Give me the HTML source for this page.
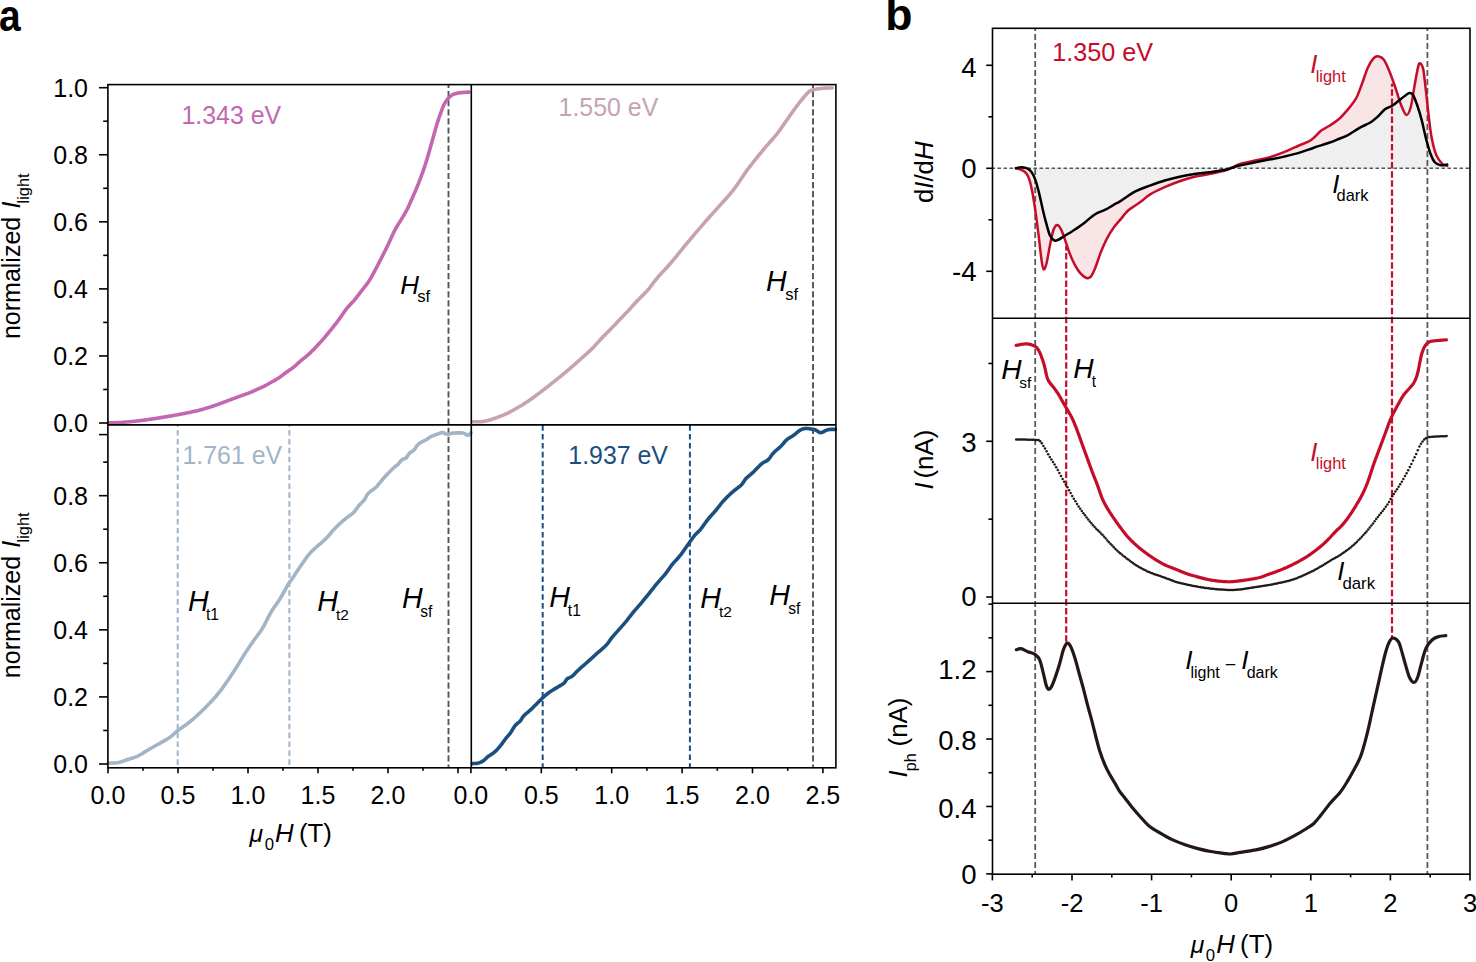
<!DOCTYPE html>
<html><head><meta charset="utf-8"><style>
html,body{margin:0;padding:0;background:#fff;width:1476px;height:962px;overflow:hidden}
svg{display:block;font-family:"Liberation Sans", sans-serif}
</style></head><body>
<svg width="1476" height="962" viewBox="0 0 1476 962">
<text transform="translate(-1.0 30.6) scale(0.875 1)" font-size="44.5" font-weight="bold" fill="#000">a</text>
<line x1="448.50" y1="84.60" x2="448.50" y2="767.80" stroke="#555" stroke-width="1.90" stroke-dasharray="6.20 2.90" stroke-dashoffset="2.70"/>
<line x1="813.00" y1="84.60" x2="813.00" y2="767.80" stroke="#555" stroke-width="1.90" stroke-dasharray="6.20 2.90" stroke-dashoffset="2.70"/>
<line x1="177.70" y1="424.90" x2="177.70" y2="767.80" stroke="#a2b4c6" stroke-width="2.00" stroke-dasharray="5.60 3.30" stroke-dashoffset="3.80"/>
<line x1="289.40" y1="424.90" x2="289.40" y2="767.80" stroke="#a2b4c6" stroke-width="2.00" stroke-dasharray="5.60 3.30" stroke-dashoffset="3.80"/>
<line x1="542.70" y1="424.90" x2="542.70" y2="767.80" stroke="#1b4f80" stroke-width="2.00" stroke-dasharray="5.60 3.30" stroke-dashoffset="8.70"/>
<line x1="689.90" y1="424.90" x2="689.90" y2="767.80" stroke="#1b4f80" stroke-width="2.00" stroke-dasharray="5.60 3.30" stroke-dashoffset="8.70"/>
<path d="M108.20 422.80 L109.45 422.79 L110.27 422.78 L111.21 422.78 L112.20 422.77 L113.20 422.76 L114.20 422.74 L115.20 422.72 L116.20 422.69 L117.20 422.65 L118.20 422.61 L119.20 422.56 L120.19 422.50 L121.19 422.43 L122.19 422.36 L123.19 422.29 L124.18 422.21 L125.18 422.13 L126.18 422.05 L127.17 421.96 L128.17 421.87 L129.16 421.78 L130.16 421.69 L131.16 421.59 L132.15 421.49 L133.15 421.39 L134.14 421.29 L135.13 421.18 L136.13 421.07 L137.12 420.96 L138.12 420.85 L139.11 420.73 L140.10 420.61 L141.09 420.49 L142.09 420.36 L143.08 420.24 L144.07 420.11 L145.06 419.98 L146.05 419.85 L147.04 419.72 L148.03 419.58 L149.03 419.44 L150.02 419.30 L151.00 419.15 L151.99 419.01 L152.98 418.86 L153.97 418.71 L154.96 418.56 L155.95 418.41 L156.94 418.26 L157.92 418.10 L158.91 417.94 L159.90 417.79 L160.89 417.63 L161.87 417.47 L162.86 417.30 L163.85 417.14 L164.83 416.98 L165.82 416.81 L166.81 416.64 L167.79 416.47 L168.78 416.30 L169.76 416.13 L170.75 415.96 L171.73 415.79 L172.72 415.61 L173.70 415.44 L174.69 415.27 L175.67 415.09 L176.66 414.92 L177.64 414.74 L178.62 414.57 L179.61 414.39 L180.59 414.21 L181.58 414.02 L182.56 413.84 L183.54 413.65 L184.52 413.45 L185.50 413.26 L186.48 413.06 L187.46 412.86 L188.44 412.65 L189.42 412.44 L190.40 412.23 L191.37 412.02 L192.35 411.81 L193.32 411.59 L194.30 411.37 L195.27 411.14 L196.25 410.91 L197.22 410.67 L198.19 410.43 L199.16 410.19 L200.13 409.93 L201.09 409.68 L202.06 409.42 L203.02 409.15 L203.99 408.88 L204.95 408.61 L205.91 408.33 L206.87 408.05 L207.82 407.76 L208.78 407.47 L209.74 407.17 L210.69 406.87 L211.64 406.57 L212.59 406.26 L213.54 405.94 L214.49 405.62 L215.43 405.30 L216.38 404.96 L217.32 404.62 L218.26 404.28 L219.20 403.93 L220.13 403.58 L221.07 403.23 L222.00 402.88 L222.94 402.53 L223.87 402.17 L224.81 401.82 L225.75 401.47 L226.68 401.12 L227.62 400.77 L228.56 400.42 L229.50 400.08 L230.43 399.73 L231.37 399.38 L232.31 399.03 L233.25 398.68 L234.18 398.33 L235.12 397.99 L236.06 397.64 L237.00 397.29 L237.93 396.94 L238.87 396.60 L239.81 396.26 L240.75 395.91 L241.69 395.58 L242.63 395.24 L243.58 394.91 L244.52 394.58 L245.47 394.25 L246.41 393.92 L247.35 393.58 L248.29 393.24 L249.22 392.88 L250.15 392.52 L251.08 392.14 L252.00 391.74 L252.91 391.33 L253.82 390.92 L254.73 390.50 L255.63 390.08 L256.54 389.66 L257.45 389.24 L258.36 388.83 L259.28 388.43 L260.19 388.02 L261.11 387.62 L262.02 387.21 L262.93 386.79 L263.83 386.36 L264.72 385.91 L265.61 385.46 L266.50 384.99 L267.38 384.51 L268.25 384.03 L269.12 383.53 L269.99 383.04 L270.86 382.54 L271.73 382.05 L272.60 381.55 L273.47 381.06 L274.34 380.57 L275.20 380.07 L276.07 379.57 L276.93 379.05 L277.78 378.53 L278.62 377.99 L279.45 377.43 L280.26 376.86 L281.07 376.27 L281.87 375.67 L282.67 375.06 L283.46 374.45 L284.25 373.84 L285.04 373.23 L285.84 372.63 L286.65 372.04 L287.47 371.47 L288.29 370.90 L289.12 370.34 L289.95 369.78 L290.77 369.21 L291.59 368.64 L292.40 368.05 L293.20 367.45 L293.98 366.83 L294.75 366.19 L295.50 365.53 L296.25 364.87 L296.98 364.19 L297.72 363.51 L298.45 362.83 L299.18 362.15 L299.93 361.48 L300.68 360.82 L301.44 360.17 L302.21 359.54 L302.99 358.91 L303.77 358.29 L304.56 357.68 L305.35 357.06 L306.13 356.43 L306.90 355.79 L307.66 355.15 L308.41 354.49 L309.15 353.81 L309.88 353.13 L310.60 352.44 L311.32 351.74 L312.03 351.04 L312.74 350.33 L313.44 349.62 L314.14 348.90 L314.83 348.19 L315.53 347.47 L316.22 346.74 L316.91 346.02 L317.59 345.29 L318.27 344.56 L318.95 343.82 L319.62 343.08 L320.29 342.34 L320.96 341.59 L321.62 340.84 L322.28 340.09 L322.93 339.34 L323.59 338.58 L324.24 337.82 L324.89 337.06 L325.53 336.30 L326.18 335.53 L326.82 334.76 L327.46 334.00 L328.10 333.23 L328.74 332.46 L329.37 331.69 L330.01 330.91 L330.64 330.14 L331.27 329.36 L331.90 328.59 L332.53 327.81 L333.15 327.03 L333.78 326.24 L334.39 325.46 L335.01 324.67 L335.62 323.88 L336.23 323.09 L336.84 322.29 L337.44 321.49 L338.04 320.69 L338.64 319.89 L339.23 319.09 L339.82 318.28 L340.40 317.47 L340.98 316.65 L341.55 315.83 L342.11 315.00 L342.68 314.18 L343.24 313.35 L343.81 312.53 L344.38 311.71 L344.96 310.89 L345.55 310.08 L346.15 309.28 L346.76 308.49 L347.39 307.72 L348.04 306.96 L348.71 306.21 L349.38 305.48 L350.07 304.75 L350.76 304.03 L351.45 303.30 L352.13 302.57 L352.81 301.84 L353.47 301.09 L354.13 300.33 L354.77 299.57 L355.40 298.79 L356.02 298.01 L356.64 297.22 L357.25 296.43 L357.86 295.64 L358.47 294.85 L359.07 294.05 L359.68 293.25 L360.29 292.46 L360.90 291.67 L361.51 290.87 L362.12 290.09 L362.74 289.30 L363.37 288.52 L363.99 287.74 L364.61 286.96 L365.23 286.17 L365.85 285.38 L366.46 284.59 L367.06 283.79 L367.65 282.98 L368.22 282.16 L368.78 281.34 L369.32 280.50 L369.85 279.65 L370.37 278.79 L370.88 277.93 L371.37 277.06 L371.86 276.19 L372.34 275.31 L372.82 274.43 L373.29 273.55 L373.76 272.67 L374.24 271.79 L374.71 270.91 L375.18 270.03 L375.65 269.15 L376.12 268.26 L376.58 267.38 L377.04 266.49 L377.51 265.60 L377.97 264.71 L378.42 263.83 L378.88 262.94 L379.34 262.05 L379.79 261.16 L380.25 260.27 L380.71 259.38 L381.16 258.49 L381.62 257.60 L382.07 256.71 L382.53 255.82 L382.98 254.93 L383.44 254.03 L383.89 253.14 L384.34 252.25 L384.80 251.36 L385.24 250.47 L385.69 249.57 L386.14 248.68 L386.58 247.78 L387.02 246.88 L387.46 245.98 L387.89 245.08 L388.32 244.18 L388.74 243.27 L389.16 242.36 L389.58 241.45 L389.99 240.54 L390.40 239.63 L390.81 238.72 L391.22 237.81 L391.64 236.90 L392.05 235.99 L392.47 235.08 L392.90 234.18 L393.33 233.27 L393.77 232.37 L394.21 231.48 L394.67 230.59 L395.14 229.71 L395.62 228.83 L396.11 227.96 L396.61 227.09 L397.12 226.23 L397.63 225.38 L398.15 224.52 L398.68 223.67 L399.20 222.82 L399.73 221.97 L400.26 221.12 L400.78 220.27 L401.30 219.42 L401.82 218.56 L402.34 217.70 L402.85 216.85 L403.37 215.99 L403.89 215.14 L404.41 214.28 L404.92 213.42 L405.42 212.56 L405.91 211.69 L406.39 210.81 L406.86 209.93 L407.32 209.04 L407.76 208.14 L408.19 207.24 L408.62 206.33 L409.04 205.43 L409.45 204.52 L409.86 203.60 L410.26 202.69 L410.66 201.77 L411.07 200.86 L411.47 199.94 L411.87 199.02 L412.27 198.11 L412.67 197.19 L413.07 196.28 L413.47 195.36 L413.87 194.44 L414.27 193.53 L414.67 192.61 L415.07 191.69 L415.47 190.77 L415.86 189.85 L416.25 188.93 L416.63 188.01 L417.01 187.09 L417.39 186.16 L417.76 185.23 L418.13 184.30 L418.50 183.37 L418.86 182.44 L419.22 181.51 L419.58 180.57 L419.93 179.64 L420.29 178.70 L420.64 177.77 L420.98 176.83 L421.33 175.89 L421.68 174.95 L422.02 174.01 L422.36 173.07 L422.70 172.13 L423.03 171.19 L423.37 170.25 L423.70 169.30 L424.02 168.36 L424.34 167.41 L424.66 166.46 L424.97 165.51 L425.28 164.56 L425.59 163.61 L425.89 162.66 L426.19 161.70 L426.48 160.75 L426.77 159.79 L427.06 158.83 L427.35 157.87 L427.63 156.91 L427.91 155.95 L428.19 154.99 L428.46 154.03 L428.74 153.07 L429.01 152.11 L429.29 151.15 L429.56 150.19 L429.84 149.22 L430.11 148.26 L430.38 147.30 L430.66 146.34 L430.93 145.38 L431.20 144.41 L431.47 143.45 L431.74 142.49 L432.02 141.53 L432.29 140.56 L432.56 139.60 L432.83 138.64 L433.10 137.68 L433.37 136.71 L433.64 135.75 L433.91 134.79 L434.18 133.83 L434.45 132.86 L434.72 131.90 L434.98 130.93 L435.25 129.97 L435.52 129.01 L435.79 128.05 L436.07 127.09 L436.35 126.12 L436.63 125.17 L436.92 124.21 L437.22 123.25 L437.52 122.30 L437.82 121.35 L438.13 120.40 L438.45 119.45 L438.77 118.50 L439.09 117.55 L439.42 116.61 L439.75 115.67 L440.08 114.72 L440.42 113.78 L440.76 112.84 L441.09 111.90 L441.43 110.96 L441.77 110.02 L442.11 109.08 L442.47 108.14 L442.83 107.21 L443.22 106.29 L443.62 105.38 L444.06 104.48 L444.53 103.60 L445.03 102.74 L445.57 101.90 L446.14 101.07 L446.73 100.27 L447.35 99.49 L448.00 98.72 L448.66 97.98 L449.34 97.25 L450.06 96.56 L450.81 95.91 L451.61 95.32 L452.45 94.80 L453.34 94.36 L454.26 94.00 L455.21 93.69 L456.17 93.43 L457.15 93.22 L458.13 93.03 L459.11 92.87 L460.10 92.73 L461.10 92.61 L462.09 92.51 L463.09 92.42 L464.08 92.35 L465.08 92.29 L466.06 92.24 L466.98 92.20 L467.77 92.16 L468.90 92.10" stroke="#c267b0" stroke-width="3.60" fill="none" stroke-linejoin="round" stroke-linecap="round" />
<path d="M472.80 421.70 L474.05 421.73 L474.87 421.75 L475.81 421.77 L476.80 421.78 L477.80 421.79 L478.80 421.78 L479.80 421.75 L480.79 421.69 L481.79 421.61 L482.78 421.50 L483.77 421.36 L484.76 421.19 L485.74 421.00 L486.71 420.78 L487.68 420.55 L488.65 420.29 L489.61 420.02 L490.57 419.73 L491.52 419.43 L492.47 419.12 L493.42 418.79 L494.36 418.46 L495.30 418.13 L496.24 417.78 L497.18 417.44 L498.12 417.09 L499.06 416.74 L499.99 416.39 L500.93 416.03 L501.86 415.67 L502.79 415.30 L503.71 414.92 L504.63 414.53 L505.55 414.13 L506.46 413.72 L507.37 413.29 L508.26 412.85 L509.15 412.40 L510.04 411.93 L510.92 411.46 L511.79 410.97 L512.66 410.48 L513.53 409.99 L514.40 409.49 L515.27 408.99 L516.13 408.49 L517.00 407.99 L517.86 407.49 L518.73 406.98 L519.59 406.48 L520.45 405.97 L521.31 405.46 L522.17 404.95 L523.02 404.43 L523.88 403.90 L524.72 403.37 L525.56 402.83 L526.40 402.29 L527.24 401.74 L528.07 401.18 L528.89 400.62 L529.72 400.05 L530.53 399.47 L531.35 398.90 L532.17 398.32 L532.98 397.73 L533.79 397.15 L534.60 396.56 L535.40 395.97 L536.21 395.37 L537.01 394.78 L537.81 394.17 L538.61 393.57 L539.40 392.96 L540.19 392.36 L540.99 391.75 L541.78 391.14 L542.57 390.52 L543.36 389.91 L544.15 389.30 L544.94 388.69 L545.74 388.08 L546.53 387.47 L547.32 386.86 L548.11 386.25 L548.91 385.64 L549.70 385.03 L550.49 384.41 L551.28 383.80 L552.06 383.18 L552.85 382.57 L553.63 381.95 L554.42 381.32 L555.20 380.70 L555.98 380.07 L556.75 379.44 L557.53 378.81 L558.31 378.18 L559.08 377.55 L559.85 376.91 L560.62 376.28 L561.40 375.64 L562.17 375.00 L562.94 374.37 L563.71 373.73 L564.48 373.09 L565.25 372.45 L566.02 371.81 L566.78 371.17 L567.55 370.53 L568.32 369.89 L569.09 369.25 L569.85 368.60 L570.61 367.96 L571.37 367.31 L572.13 366.66 L572.89 366.00 L573.64 365.35 L574.40 364.69 L575.15 364.03 L575.89 363.36 L576.64 362.70 L577.38 362.03 L578.13 361.36 L578.87 360.69 L579.61 360.02 L580.36 359.35 L581.10 358.68 L581.84 358.01 L582.59 357.35 L583.34 356.68 L584.09 356.02 L584.84 355.36 L585.59 354.71 L586.34 354.05 L587.09 353.38 L587.84 352.72 L588.58 352.05 L589.32 351.37 L590.05 350.69 L590.77 350.00 L591.48 349.29 L592.18 348.58 L592.88 347.86 L593.56 347.14 L594.24 346.40 L594.91 345.66 L595.58 344.92 L596.25 344.17 L596.91 343.42 L597.57 342.67 L598.24 341.93 L598.91 341.18 L599.58 340.44 L600.26 339.71 L600.94 338.98 L601.63 338.25 L602.32 337.53 L603.02 336.82 L603.72 336.11 L604.43 335.40 L605.14 334.69 L605.84 333.98 L606.55 333.28 L607.26 332.57 L607.97 331.86 L608.67 331.15 L609.37 330.44 L610.07 329.73 L610.77 329.01 L611.46 328.29 L612.15 327.57 L612.84 326.84 L613.53 326.12 L614.22 325.39 L614.91 324.67 L615.59 323.94 L616.28 323.21 L616.97 322.48 L617.65 321.76 L618.34 321.03 L619.03 320.31 L619.72 319.58 L620.41 318.86 L621.10 318.14 L621.80 317.42 L622.49 316.70 L623.19 315.98 L623.88 315.26 L624.58 314.54 L625.27 313.82 L625.96 313.10 L626.65 312.38 L627.34 311.65 L628.03 310.92 L628.72 310.20 L629.40 309.46 L630.08 308.73 L630.75 307.99 L631.42 307.25 L632.10 306.51 L632.77 305.77 L633.43 305.03 L634.10 304.28 L634.77 303.54 L635.45 302.80 L636.12 302.06 L636.80 301.33 L637.48 300.59 L638.16 299.87 L638.86 299.15 L639.56 298.43 L640.26 297.72 L640.97 297.02 L641.69 296.32 L642.41 295.63 L643.13 294.93 L643.84 294.23 L644.55 293.53 L645.25 292.82 L645.95 292.09 L646.63 291.36 L647.30 290.62 L647.95 289.87 L648.60 289.10 L649.23 288.33 L649.84 287.54 L650.45 286.75 L651.05 285.95 L651.65 285.15 L652.25 284.34 L652.84 283.54 L653.44 282.74 L654.04 281.94 L654.65 281.15 L655.27 280.36 L655.89 279.58 L656.53 278.81 L657.17 278.04 L657.82 277.28 L658.48 276.53 L659.14 275.78 L659.81 275.04 L660.49 274.30 L661.16 273.56 L661.84 272.83 L662.52 272.09 L663.20 271.36 L663.88 270.63 L664.56 269.90 L665.24 269.16 L665.92 268.43 L666.60 267.70 L667.28 266.96 L667.95 266.22 L668.62 265.47 L669.28 264.73 L669.94 263.98 L670.60 263.22 L671.25 262.46 L671.90 261.70 L672.54 260.94 L673.18 260.17 L673.82 259.40 L674.46 258.63 L675.09 257.86 L675.73 257.08 L676.36 256.30 L676.99 255.53 L677.61 254.75 L678.24 253.97 L678.87 253.19 L679.50 252.42 L680.13 251.64 L680.75 250.86 L681.38 250.08 L682.01 249.31 L682.65 248.53 L683.28 247.76 L683.91 246.98 L684.55 246.21 L685.19 245.44 L685.82 244.67 L686.46 243.90 L687.10 243.13 L687.74 242.37 L688.38 241.60 L689.02 240.83 L689.67 240.06 L690.31 239.29 L690.95 238.53 L691.59 237.76 L692.23 236.99 L692.88 236.23 L693.52 235.46 L694.16 234.70 L694.81 233.93 L695.45 233.17 L696.10 232.41 L696.75 231.64 L697.39 230.88 L698.04 230.12 L698.69 229.36 L699.34 228.60 L699.99 227.84 L700.64 227.08 L701.29 226.32 L701.95 225.56 L702.60 224.81 L703.26 224.05 L703.92 223.30 L704.58 222.55 L705.24 221.80 L705.90 221.05 L706.56 220.30 L707.22 219.55 L707.89 218.80 L708.55 218.06 L709.22 217.31 L709.88 216.56 L710.55 215.82 L711.22 215.07 L711.88 214.33 L712.55 213.58 L713.22 212.84 L713.88 212.09 L714.55 211.35 L715.22 210.60 L715.88 209.86 L716.55 209.11 L717.21 208.36 L717.88 207.61 L718.54 206.87 L719.21 206.12 L719.88 205.38 L720.54 204.63 L721.22 203.89 L721.89 203.15 L722.56 202.42 L723.24 201.68 L723.92 200.94 L724.59 200.20 L725.27 199.47 L725.94 198.73 L726.61 197.98 L727.28 197.24 L727.94 196.49 L728.60 195.74 L729.26 194.99 L729.91 194.23 L730.55 193.46 L731.19 192.69 L731.82 191.92 L732.45 191.14 L733.07 190.35 L733.68 189.56 L734.28 188.76 L734.87 187.96 L735.46 187.15 L736.04 186.34 L736.62 185.52 L737.19 184.70 L737.76 183.87 L738.32 183.05 L738.88 182.22 L739.44 181.39 L739.99 180.56 L740.55 179.73 L741.10 178.89 L741.66 178.06 L742.22 177.23 L742.78 176.40 L743.34 175.58 L743.90 174.75 L744.47 173.93 L745.04 173.11 L745.61 172.29 L746.19 171.47 L746.78 170.66 L747.37 169.86 L747.97 169.05 L748.57 168.25 L749.17 167.46 L749.78 166.66 L750.39 165.87 L751.00 165.08 L751.62 164.29 L752.23 163.50 L752.85 162.72 L753.47 161.93 L754.09 161.15 L754.72 160.37 L755.34 159.59 L755.97 158.81 L756.59 158.03 L757.22 157.25 L757.85 156.47 L758.48 155.70 L759.11 154.92 L759.75 154.15 L760.38 153.37 L761.01 152.60 L761.65 151.83 L762.28 151.05 L762.92 150.28 L763.55 149.51 L764.19 148.74 L764.83 147.97 L765.47 147.20 L766.12 146.44 L766.77 145.68 L767.43 144.93 L768.09 144.17 L768.75 143.42 L769.41 142.68 L770.07 141.93 L770.74 141.18 L771.40 140.44 L772.07 139.69 L772.73 138.94 L773.39 138.18 L774.04 137.43 L774.69 136.67 L775.33 135.90 L775.96 135.12 L776.59 134.35 L777.21 133.56 L777.82 132.77 L778.42 131.97 L779.02 131.17 L779.61 130.36 L780.19 129.55 L780.77 128.73 L781.35 127.92 L781.92 127.10 L782.49 126.28 L783.06 125.45 L783.63 124.63 L784.20 123.81 L784.76 122.98 L785.33 122.16 L785.91 121.34 L786.48 120.52 L787.06 119.71 L787.63 118.89 L788.21 118.07 L788.79 117.26 L789.36 116.44 L789.94 115.62 L790.51 114.80 L791.09 113.98 L791.66 113.17 L792.24 112.35 L792.82 111.53 L793.40 110.72 L793.98 109.90 L794.56 109.09 L795.15 108.28 L795.74 107.48 L796.34 106.68 L796.94 105.88 L797.55 105.08 L798.16 104.29 L798.77 103.50 L799.38 102.71 L800.00 101.92 L800.62 101.14 L801.24 100.35 L801.87 99.57 L802.49 98.80 L803.13 98.02 L803.76 97.25 L804.41 96.48 L805.06 95.72 L805.72 94.97 L806.38 94.23 L807.07 93.50 L807.77 92.79 L808.50 92.12 L809.27 91.50 L810.10 90.97 L810.98 90.53 L811.90 90.19 L812.85 89.91 L813.82 89.66 L814.79 89.44 L815.77 89.24 L816.76 89.06 L817.74 88.90 L818.73 88.76 L819.72 88.63 L820.72 88.51 L821.71 88.40 L822.71 88.31 L823.70 88.23 L824.70 88.16 L825.70 88.11 L826.70 88.07 L827.70 88.03 L828.70 88.00 L829.69 87.98 L830.64 87.95 L831.49 87.93 L832.16 87.92" stroke="#c6a2b3" stroke-width="3.60" fill="none" stroke-linejoin="round" stroke-linecap="round" />
<path d="M108.30 763.10 L109.55 763.08 L110.37 763.06 L111.31 763.04 L112.30 763.02 L113.30 762.99 L114.30 762.95 L115.29 762.88 L116.29 762.79 L117.28 762.67 L118.26 762.51 L119.24 762.30 L120.21 762.06 L121.17 761.78 L122.11 761.47 L123.06 761.14 L124.00 760.80 L124.94 760.46 L125.88 760.13 L126.83 759.81 L127.78 759.50 L128.74 759.21 L129.70 758.92 L130.65 758.63 L131.61 758.34 L132.57 758.05 L133.52 757.74 L134.46 757.41 L135.40 757.07 L136.33 756.70 L137.25 756.31 L138.15 755.88 L139.04 755.43 L139.92 754.96 L140.79 754.46 L141.65 753.95 L142.50 753.42 L143.34 752.89 L144.18 752.35 L145.02 751.81 L145.86 751.27 L146.71 750.73 L147.56 750.20 L148.41 749.69 L149.28 749.18 L150.14 748.68 L151.01 748.19 L151.88 747.70 L152.76 747.21 L153.63 746.73 L154.51 746.25 L155.39 745.76 L156.26 745.28 L157.13 744.79 L158.01 744.30 L158.88 743.81 L159.75 743.32 L160.61 742.82 L161.48 742.33 L162.35 741.83 L163.22 741.34 L164.09 740.84 L164.96 740.34 L165.82 739.84 L166.68 739.33 L167.54 738.81 L168.38 738.28 L169.22 737.74 L170.05 737.17 L170.86 736.59 L171.65 735.98 L172.42 735.35 L173.18 734.70 L173.92 734.03 L174.66 733.35 L175.39 732.67 L176.13 732.00 L176.88 731.34 L177.65 730.70 L178.44 730.08 L179.23 729.48 L180.04 728.90 L180.86 728.32 L181.69 727.76 L182.52 727.20 L183.34 726.63 L184.17 726.07 L184.99 725.50 L185.80 724.92 L186.61 724.33 L187.41 723.73 L188.20 723.12 L188.99 722.50 L189.77 721.87 L190.54 721.24 L191.31 720.60 L192.07 719.96 L192.84 719.31 L193.59 718.66 L194.35 718.00 L195.10 717.34 L195.85 716.68 L196.59 716.01 L197.33 715.34 L198.07 714.66 L198.80 713.98 L199.53 713.30 L200.26 712.61 L200.98 711.92 L201.70 711.22 L202.42 710.53 L203.13 709.82 L203.84 709.12 L204.54 708.41 L205.25 707.70 L205.95 706.99 L206.65 706.27 L207.35 705.56 L208.04 704.84 L208.73 704.12 L209.42 703.39 L210.11 702.67 L210.80 701.94 L211.48 701.21 L212.16 700.48 L212.84 699.74 L213.52 699.00 L214.19 698.26 L214.85 697.52 L215.51 696.76 L216.16 696.01 L216.81 695.24 L217.45 694.47 L218.08 693.70 L218.71 692.92 L219.33 692.14 L219.94 691.35 L220.55 690.56 L221.16 689.76 L221.75 688.96 L222.35 688.15 L222.94 687.35 L223.52 686.54 L224.11 685.72 L224.69 684.91 L225.27 684.09 L225.84 683.28 L226.42 682.46 L226.99 681.64 L227.56 680.82 L228.13 680.00 L228.70 679.17 L229.26 678.35 L229.82 677.52 L230.38 676.69 L230.94 675.86 L231.49 675.03 L232.05 674.19 L232.60 673.36 L233.14 672.52 L233.69 671.68 L234.23 670.84 L234.78 670.00 L235.32 669.16 L235.85 668.32 L236.39 667.47 L236.92 666.63 L237.45 665.78 L237.97 664.93 L238.49 664.07 L239.01 663.22 L239.53 662.36 L240.04 661.50 L240.56 660.65 L241.07 659.79 L241.59 658.93 L242.11 658.08 L242.63 657.22 L243.15 656.37 L243.68 655.52 L244.21 654.68 L244.75 653.83 L245.29 652.99 L245.83 652.15 L246.38 651.31 L246.93 650.48 L247.48 649.64 L248.03 648.81 L248.59 647.98 L249.15 647.15 L249.71 646.32 L250.27 645.49 L250.83 644.67 L251.40 643.84 L251.96 643.02 L252.53 642.20 L253.11 641.38 L253.68 640.56 L254.27 639.75 L254.86 638.94 L255.45 638.14 L256.06 637.34 L256.67 636.55 L257.27 635.76 L257.88 634.96 L258.49 634.16 L259.08 633.36 L259.67 632.55 L260.25 631.74 L260.81 630.91 L261.36 630.08 L261.90 629.24 L262.42 628.38 L262.93 627.52 L263.43 626.65 L263.91 625.78 L264.38 624.90 L264.84 624.01 L265.30 623.12 L265.76 622.23 L266.21 621.34 L266.66 620.44 L267.10 619.55 L267.56 618.66 L268.01 617.77 L268.47 616.88 L268.93 615.99 L269.40 615.11 L269.88 614.23 L270.37 613.36 L270.87 612.49 L271.38 611.64 L271.91 610.79 L272.45 609.95 L273.00 609.11 L273.56 608.28 L274.13 607.46 L274.70 606.64 L275.27 605.82 L275.85 605.00 L276.43 604.19 L277.00 603.37 L277.57 602.54 L278.13 601.71 L278.68 600.88 L279.22 600.04 L279.75 599.19 L280.27 598.34 L280.78 597.48 L281.29 596.62 L281.79 595.75 L282.28 594.88 L282.77 594.01 L283.26 593.14 L283.75 592.27 L284.24 591.39 L284.72 590.52 L285.20 589.64 L285.69 588.77 L286.18 587.89 L286.66 587.02 L287.16 586.15 L287.66 585.29 L288.17 584.43 L288.69 583.58 L289.24 582.74 L289.81 581.92 L290.41 581.12 L291.01 580.32 L291.60 579.52 L292.18 578.70 L292.74 577.88 L293.29 577.04 L293.84 576.21 L294.39 575.37 L294.94 574.53 L295.48 573.70 L296.03 572.86 L296.58 572.02 L297.13 571.19 L297.68 570.35 L298.24 569.52 L298.80 568.69 L299.36 567.87 L299.92 567.04 L300.48 566.21 L301.05 565.39 L301.61 564.56 L302.18 563.74 L302.74 562.91 L303.31 562.09 L303.88 561.27 L304.45 560.45 L305.03 559.63 L305.61 558.81 L306.19 558.00 L306.79 557.20 L307.39 556.40 L308.00 555.61 L308.63 554.83 L309.26 554.06 L309.92 553.31 L310.59 552.57 L311.28 551.84 L311.98 551.13 L312.70 550.44 L313.43 549.75 L314.16 549.07 L314.90 548.39 L315.64 547.72 L316.38 547.05 L317.12 546.38 L317.87 545.72 L318.63 545.06 L319.39 544.42 L320.15 543.77 L320.91 543.12 L321.67 542.47 L322.43 541.82 L323.17 541.15 L323.91 540.48 L324.64 539.79 L325.36 539.10 L326.07 538.39 L326.77 537.68 L327.46 536.96 L328.15 536.23 L328.82 535.49 L329.48 534.74 L330.12 533.98 L330.75 533.20 L331.37 532.42 L332.00 531.64 L332.64 530.87 L333.30 530.12 L333.97 529.38 L334.66 528.66 L335.36 527.94 L336.07 527.24 L336.78 526.54 L337.50 525.85 L338.23 525.16 L338.96 524.47 L339.70 523.80 L340.43 523.12 L341.18 522.45 L341.92 521.79 L342.67 521.12 L343.42 520.47 L344.18 519.81 L344.95 519.17 L345.72 518.54 L346.51 517.92 L347.31 517.32 L348.12 516.73 L348.93 516.16 L349.76 515.59 L350.57 515.01 L351.38 514.42 L352.16 513.80 L352.91 513.15 L353.63 512.46 L354.31 511.73 L354.95 510.97 L355.56 510.18 L356.14 509.37 L356.72 508.55 L357.29 507.73 L357.86 506.91 L358.46 506.11 L359.09 505.33 L359.74 504.58 L360.43 503.86 L361.14 503.16 L361.86 502.47 L362.59 501.78 L363.30 501.07 L363.97 500.34 L364.58 499.56 L365.11 498.73 L365.56 497.86 L365.97 496.95 L366.39 496.05 L366.85 495.18 L367.40 494.37 L368.04 493.61 L368.74 492.92 L369.50 492.26 L370.28 491.64 L371.07 491.04 L371.88 490.44 L372.68 489.85 L373.49 489.26 L374.28 488.65 L375.06 488.03 L375.81 487.37 L376.53 486.68 L377.21 485.95 L377.85 485.19 L378.47 484.41 L379.09 483.62 L379.71 482.84 L380.35 482.08 L381.00 481.31 L381.65 480.55 L382.30 479.80 L382.96 479.04 L383.62 478.29 L384.28 477.54 L384.94 476.79 L385.61 476.05 L386.28 475.31 L386.96 474.58 L387.65 473.85 L388.34 473.13 L389.04 472.41 L389.74 471.70 L390.45 470.99 L391.16 470.28 L391.87 469.58 L392.59 468.89 L393.31 468.20 L394.05 467.52 L394.80 466.86 L395.57 466.23 L396.35 465.62 L397.14 465.01 L397.90 464.37 L398.62 463.68 L399.27 462.94 L399.89 462.16 L400.50 461.38 L401.13 460.63 L401.83 459.96 L402.61 459.44 L403.48 459.05 L404.37 458.73 L405.24 458.36 L406.02 457.86 L406.69 457.19 L407.28 456.42 L407.82 455.59 L408.35 454.75 L408.91 453.94 L409.55 453.21 L410.28 452.59 L411.10 452.07 L411.95 451.61 L412.78 451.12 L413.53 450.53 L414.19 449.82 L414.78 449.03 L415.33 448.20 L415.86 447.35 L416.41 446.52 L417.00 445.72 L417.65 444.97 L418.36 444.28 L419.12 443.65 L419.93 443.07 L420.77 442.54 L421.64 442.05 L422.53 441.59 L423.42 441.15 L424.32 440.72 L425.22 440.27 L426.09 439.79 L426.93 439.26 L427.74 438.68 L428.53 438.09 L429.34 437.51 L430.19 436.99 L431.06 436.52 L431.97 436.11 L432.90 435.74 L433.83 435.39 L434.77 435.05 L435.72 434.72 L436.66 434.39 L437.60 434.05 L438.54 433.70 L439.47 433.35 L440.41 433.01 L441.35 432.73 L442.27 432.59 L443.16 432.64 L443.98 432.93 L444.75 433.39 L445.52 433.85 L446.34 434.17 L447.23 434.25 L448.17 434.15 L449.12 433.93 L450.08 433.67 L451.05 433.44 L452.03 433.26 L453.02 433.12 L454.01 433.03 L455.01 432.96 L456.01 432.91 L457.01 432.88 L458.01 432.86 L459.01 432.85 L460.01 432.85 L461.00 432.88 L462.00 432.95 L462.98 433.07 L463.92 433.30 L464.80 433.67 L465.61 434.16 L466.36 434.69 L467.10 435.09 L467.85 435.21 L468.61 435.00 L469.33 434.51 L469.98 433.88 L470.53 433.26 L470.95 432.75" stroke="#a2b4c6" stroke-width="3.60" fill="none" stroke-linejoin="round" stroke-linecap="round" />
<path d="M472.30 763.60 L473.55 763.57 L474.37 763.54 L475.31 763.49 L476.29 763.39 L477.27 763.24 L478.24 763.02 L479.19 762.74 L480.13 762.40 L481.05 762.02 L481.95 761.58 L482.82 761.10 L483.65 760.56 L484.43 759.95 L485.16 759.28 L485.86 758.58 L486.56 757.87 L487.29 757.19 L488.05 756.56 L488.86 755.97 L489.69 755.42 L490.54 754.90 L491.39 754.37 L492.22 753.82 L493.03 753.24 L493.82 752.63 L494.58 751.98 L495.32 751.31 L496.05 750.62 L496.75 749.92 L497.44 749.19 L498.12 748.46 L498.79 747.71 L499.44 746.95 L500.07 746.18 L500.70 745.40 L501.30 744.61 L501.90 743.81 L502.49 743.00 L503.08 742.19 L503.67 741.38 L504.26 740.57 L504.86 739.77 L505.47 738.98 L506.09 738.20 L506.73 737.43 L507.38 736.67 L508.03 735.91 L508.67 735.15 L509.30 734.37 L509.92 733.58 L510.50 732.77 L511.06 731.95 L511.60 731.10 L512.12 730.25 L512.63 729.39 L513.14 728.53 L513.67 727.68 L514.21 726.85 L514.79 726.03 L515.41 725.26 L516.09 724.54 L516.83 723.88 L517.61 723.26 L518.40 722.66 L519.17 722.04 L519.89 721.37 L520.53 720.62 L521.08 719.81 L521.59 718.96 L522.08 718.10 L522.62 717.26 L523.21 716.47 L523.87 715.73 L524.57 715.02 L525.31 714.35 L526.07 713.70 L526.84 713.06 L527.60 712.42 L528.37 711.78 L529.13 711.13 L529.89 710.47 L530.63 709.80 L531.36 709.12 L532.08 708.43 L532.80 707.73 L533.51 707.03 L534.22 706.32 L534.92 705.61 L535.62 704.90 L536.32 704.18 L537.02 703.47 L537.72 702.76 L538.42 702.04 L539.13 701.33 L539.84 700.63 L540.55 699.92 L541.26 699.22 L541.98 698.53 L542.71 697.84 L543.44 697.16 L544.18 696.49 L544.92 695.82 L545.68 695.17 L546.44 694.52 L547.22 693.89 L548.01 693.28 L548.80 692.68 L549.62 692.09 L550.44 691.53 L551.27 690.98 L552.12 690.44 L552.97 689.92 L553.82 689.40 L554.68 688.88 L555.54 688.37 L556.39 687.85 L557.25 687.34 L558.11 686.83 L558.98 686.32 L559.84 685.82 L560.70 685.32 L561.56 684.81 L562.41 684.28 L563.23 683.71 L564.00 683.10 L564.68 682.41 L565.25 681.63 L565.73 680.80 L566.20 679.97 L566.75 679.22 L567.44 678.62 L568.27 678.16 L569.16 677.79 L570.07 677.41 L570.96 676.98 L571.79 676.46 L572.58 675.86 L573.32 675.20 L574.04 674.50 L574.73 673.79 L575.42 673.07 L576.11 672.34 L576.80 671.62 L577.50 670.90 L578.22 670.20 L578.94 669.51 L579.68 668.84 L580.42 668.17 L581.17 667.51 L581.93 666.86 L582.69 666.20 L583.45 665.55 L584.20 664.90 L584.96 664.25 L585.71 663.59 L586.46 662.93 L587.21 662.26 L587.95 661.59 L588.69 660.92 L589.43 660.25 L590.17 659.57 L590.91 658.90 L591.65 658.23 L592.39 657.55 L593.13 656.88 L593.87 656.21 L594.61 655.53 L595.35 654.86 L596.09 654.20 L596.84 653.53 L597.59 652.87 L598.35 652.22 L599.11 651.57 L599.87 650.92 L600.63 650.27 L601.39 649.62 L602.15 648.97 L602.90 648.31 L603.64 647.64 L604.38 646.96 L605.10 646.27 L605.80 645.56 L606.48 644.83 L607.14 644.08 L607.77 643.30 L608.37 642.50 L608.95 641.69 L609.53 640.87 L610.10 640.05 L610.67 639.24 L611.26 638.43 L611.87 637.64 L612.50 636.86 L613.14 636.09 L613.79 635.33 L614.45 634.58 L615.11 633.83 L615.78 633.09 L616.45 632.34 L617.12 631.60 L617.79 630.86 L618.46 630.12 L619.13 629.37 L619.79 628.63 L620.46 627.88 L621.12 627.13 L621.79 626.39 L622.45 625.64 L623.11 624.89 L623.77 624.13 L624.42 623.37 L625.06 622.61 L625.70 621.84 L626.34 621.07 L626.97 620.29 L627.59 619.51 L628.21 618.72 L628.82 617.93 L629.44 617.15 L630.05 616.36 L630.66 615.57 L631.28 614.78 L631.90 613.99 L632.52 613.21 L633.14 612.43 L633.77 611.65 L634.41 610.88 L635.06 610.12 L635.72 609.37 L636.38 608.61 L637.04 607.87 L637.70 607.12 L638.36 606.37 L639.02 605.61 L639.67 604.85 L640.31 604.08 L640.95 603.32 L641.59 602.55 L642.23 601.78 L642.87 601.01 L643.51 600.24 L644.14 599.47 L644.78 598.70 L645.41 597.92 L646.05 597.15 L646.68 596.38 L647.31 595.60 L647.95 594.83 L648.58 594.05 L649.21 593.28 L649.84 592.50 L650.46 591.72 L651.09 590.94 L651.71 590.16 L652.33 589.37 L652.95 588.59 L653.57 587.80 L654.19 587.01 L654.81 586.23 L655.43 585.45 L656.06 584.67 L656.69 583.89 L657.33 583.13 L657.98 582.36 L658.63 581.61 L659.29 580.86 L659.96 580.11 L660.63 579.37 L661.31 578.64 L661.98 577.89 L662.65 577.15 L663.31 576.40 L663.95 575.64 L664.59 574.87 L665.22 574.09 L665.83 573.30 L666.43 572.50 L667.02 571.69 L667.60 570.88 L668.18 570.06 L668.75 569.24 L669.33 568.42 L669.90 567.61 L670.49 566.80 L671.08 565.99 L671.68 565.19 L672.29 564.40 L672.92 563.62 L673.57 562.86 L674.23 562.11 L674.90 561.37 L675.57 560.63 L676.26 559.90 L676.94 559.17 L677.61 558.43 L678.28 557.69 L678.94 556.94 L679.58 556.17 L680.21 555.39 L680.83 554.61 L681.43 553.81 L682.02 553.01 L682.61 552.20 L683.19 551.38 L683.77 550.56 L684.34 549.75 L684.92 548.93 L685.49 548.11 L686.06 547.29 L686.64 546.47 L687.22 545.66 L687.80 544.84 L688.38 544.03 L688.96 543.21 L689.54 542.40 L690.11 541.58 L690.69 540.76 L691.27 539.95 L691.86 539.14 L692.44 538.33 L693.04 537.52 L693.64 536.73 L694.26 535.94 L694.90 535.17 L695.56 534.42 L696.24 533.70 L696.96 533.00 L697.68 532.32 L698.41 531.63 L699.12 530.93 L699.81 530.21 L700.47 529.46 L701.10 528.69 L701.71 527.90 L702.31 527.09 L702.89 526.28 L703.47 525.47 L704.05 524.65 L704.62 523.83 L705.20 523.01 L705.78 522.20 L706.36 521.39 L706.96 520.58 L707.57 519.79 L708.19 519.01 L708.82 518.24 L709.47 517.48 L710.13 516.73 L710.80 515.98 L711.48 515.24 L712.16 514.51 L712.83 513.77 L713.51 513.04 L714.18 512.29 L714.84 511.54 L715.49 510.78 L716.12 510.01 L716.75 509.24 L717.37 508.45 L717.98 507.66 L718.59 506.87 L719.20 506.07 L719.81 505.28 L720.43 504.50 L721.06 503.72 L721.69 502.94 L722.34 502.18 L723.00 501.43 L723.67 500.69 L724.35 499.96 L725.04 499.23 L725.73 498.51 L726.43 497.80 L727.14 497.09 L727.85 496.39 L728.57 495.69 L729.29 495.00 L730.01 494.31 L730.74 493.63 L731.48 492.95 L732.22 492.28 L732.98 491.63 L733.74 490.98 L734.52 490.35 L735.30 489.73 L736.09 489.12 L736.88 488.51 L737.68 487.90 L738.47 487.29 L739.26 486.67 L740.03 486.04 L740.78 485.38 L741.49 484.69 L742.16 483.95 L742.77 483.17 L743.32 482.34 L743.85 481.50 L744.38 480.66 L744.95 479.84 L745.57 479.07 L746.24 478.34 L746.96 477.64 L747.70 476.97 L748.46 476.32 L749.22 475.67 L749.99 475.03 L750.75 474.38 L751.50 473.73 L752.25 473.06 L752.98 472.38 L753.70 471.69 L754.41 470.99 L755.12 470.28 L755.81 469.56 L756.51 468.84 L757.20 468.12 L757.89 467.40 L758.59 466.68 L759.29 465.97 L760.00 465.26 L760.72 464.57 L761.46 463.90 L762.23 463.28 L763.04 462.71 L763.90 462.21 L764.79 461.77 L765.69 461.36 L766.56 460.91 L767.39 460.38 L768.14 459.76 L768.83 459.05 L769.46 458.28 L770.05 457.48 L770.62 456.66 L771.19 455.84 L771.77 455.03 L772.38 454.23 L773.01 453.46 L773.67 452.71 L774.37 452.00 L775.09 451.31 L775.83 450.65 L776.59 450.00 L777.36 449.35 L778.13 448.71 L778.89 448.07 L779.64 447.41 L780.38 446.73 L781.09 446.03 L781.78 445.31 L782.44 444.56 L783.08 443.79 L783.71 443.02 L784.35 442.25 L785.00 441.50 L785.68 440.77 L786.40 440.08 L787.16 439.43 L787.95 438.83 L788.77 438.26 L789.61 437.73 L790.47 437.21 L791.33 436.70 L792.19 436.19 L793.03 435.65 L793.86 435.10 L794.66 434.50 L795.44 433.88 L796.20 433.24 L796.96 432.58 L797.72 431.93 L798.50 431.31 L799.30 430.73 L800.14 430.20 L801.02 429.72 L801.92 429.32 L802.86 428.99 L803.82 428.74 L804.79 428.57 L805.78 428.49 L806.77 428.50 L807.76 428.56 L808.76 428.68 L809.74 428.83 L810.73 429.00 L811.71 429.17 L812.70 429.35 L813.67 429.54 L814.64 429.77 L815.57 430.08 L816.45 430.49 L817.27 431.01 L818.05 431.59 L818.83 432.13 L819.66 432.52 L820.53 432.67 L821.43 432.57 L822.33 432.26 L823.22 431.84 L824.09 431.37 L824.97 430.90 L825.87 430.47 L826.79 430.11 L827.74 429.82 L828.71 429.61 L829.69 429.48 L830.69 429.40 L831.68 429.36 L832.65 429.36 L833.56 429.37 L834.31 429.38 L835.30 429.40" stroke="#1b4f80" stroke-width="3.60" fill="none" stroke-linejoin="round" stroke-linecap="round" />
<rect x="107.90" y="84.60" width="728.00" height="683.20" fill="none" stroke="#000" stroke-width="1.60"/>
<line x1="471.30" y1="84.60" x2="471.30" y2="767.80" stroke="#000" stroke-width="1.60" />
<line x1="107.90" y1="424.90" x2="835.90" y2="424.90" stroke="#000" stroke-width="1.60" />
<line x1="99.00" y1="87.70" x2="107.90" y2="87.70" stroke="#000" stroke-width="1.60" />
<line x1="99.00" y1="154.76" x2="107.90" y2="154.76" stroke="#000" stroke-width="1.60" />
<line x1="99.00" y1="221.82" x2="107.90" y2="221.82" stroke="#000" stroke-width="1.60" />
<line x1="99.00" y1="288.88" x2="107.90" y2="288.88" stroke="#000" stroke-width="1.60" />
<line x1="99.00" y1="355.94" x2="107.90" y2="355.94" stroke="#000" stroke-width="1.60" />
<line x1="99.00" y1="423.00" x2="107.90" y2="423.00" stroke="#000" stroke-width="1.60" />
<line x1="103.20" y1="121.23" x2="107.90" y2="121.23" stroke="#000" stroke-width="1.60" />
<line x1="103.20" y1="188.29" x2="107.90" y2="188.29" stroke="#000" stroke-width="1.60" />
<line x1="103.20" y1="255.35" x2="107.90" y2="255.35" stroke="#000" stroke-width="1.60" />
<line x1="103.20" y1="322.41" x2="107.90" y2="322.41" stroke="#000" stroke-width="1.60" />
<line x1="103.20" y1="389.47" x2="107.90" y2="389.47" stroke="#000" stroke-width="1.60" />
<text x="88.00" y="97.00" font-size="25.00" text-anchor="end" fill="#000" >1.0</text>
<text x="88.00" y="164.06" font-size="25.00" text-anchor="end" fill="#000" >0.8</text>
<text x="88.00" y="231.12" font-size="25.00" text-anchor="end" fill="#000" >0.6</text>
<text x="88.00" y="298.18" font-size="25.00" text-anchor="end" fill="#000" >0.4</text>
<text x="88.00" y="365.24" font-size="25.00" text-anchor="end" fill="#000" >0.2</text>
<text x="88.00" y="432.30" font-size="25.00" text-anchor="end" fill="#000" >0.0</text>
<line x1="99.00" y1="434.60" x2="107.90" y2="434.60" stroke="#000" stroke-width="1.60" />
<line x1="99.00" y1="764.00" x2="107.90" y2="764.00" stroke="#000" stroke-width="1.60" />
<text x="88.00" y="773.30" font-size="25.00" text-anchor="end" fill="#000" >0.0</text>
<line x1="99.00" y1="696.92" x2="107.90" y2="696.92" stroke="#000" stroke-width="1.60" />
<text x="88.00" y="706.22" font-size="25.00" text-anchor="end" fill="#000" >0.2</text>
<line x1="99.00" y1="629.84" x2="107.90" y2="629.84" stroke="#000" stroke-width="1.60" />
<text x="88.00" y="639.14" font-size="25.00" text-anchor="end" fill="#000" >0.4</text>
<line x1="99.00" y1="562.76" x2="107.90" y2="562.76" stroke="#000" stroke-width="1.60" />
<text x="88.00" y="572.06" font-size="25.00" text-anchor="end" fill="#000" >0.6</text>
<line x1="99.00" y1="495.68" x2="107.90" y2="495.68" stroke="#000" stroke-width="1.60" />
<text x="88.00" y="504.98" font-size="25.00" text-anchor="end" fill="#000" >0.8</text>
<line x1="103.20" y1="730.46" x2="107.90" y2="730.46" stroke="#000" stroke-width="1.60" />
<line x1="103.20" y1="663.38" x2="107.90" y2="663.38" stroke="#000" stroke-width="1.60" />
<line x1="103.20" y1="596.30" x2="107.90" y2="596.30" stroke="#000" stroke-width="1.60" />
<line x1="103.20" y1="529.22" x2="107.90" y2="529.22" stroke="#000" stroke-width="1.60" />
<line x1="103.20" y1="462.14" x2="107.90" y2="462.14" stroke="#000" stroke-width="1.60" />
<line x1="108.00" y1="767.80" x2="108.00" y2="773.30" stroke="#000" stroke-width="1.60" />
<text x="108.00" y="804.00" font-size="25.00" text-anchor="middle" fill="#000" >0.0</text>
<line x1="178.00" y1="767.80" x2="178.00" y2="773.30" stroke="#000" stroke-width="1.60" />
<text x="178.00" y="804.00" font-size="25.00" text-anchor="middle" fill="#000" >0.5</text>
<line x1="248.00" y1="767.80" x2="248.00" y2="773.30" stroke="#000" stroke-width="1.60" />
<text x="248.00" y="804.00" font-size="25.00" text-anchor="middle" fill="#000" >1.0</text>
<line x1="318.00" y1="767.80" x2="318.00" y2="773.30" stroke="#000" stroke-width="1.60" />
<text x="318.00" y="804.00" font-size="25.00" text-anchor="middle" fill="#000" >1.5</text>
<line x1="388.00" y1="767.80" x2="388.00" y2="773.30" stroke="#000" stroke-width="1.60" />
<text x="388.00" y="804.00" font-size="25.00" text-anchor="middle" fill="#000" >2.0</text>
<line x1="458.00" y1="767.80" x2="458.00" y2="773.30" stroke="#000" stroke-width="1.60" />
<line x1="143.00" y1="767.80" x2="143.00" y2="770.80" stroke="#000" stroke-width="1.60" />
<line x1="213.00" y1="767.80" x2="213.00" y2="770.80" stroke="#000" stroke-width="1.60" />
<line x1="283.00" y1="767.80" x2="283.00" y2="770.80" stroke="#000" stroke-width="1.60" />
<line x1="353.00" y1="767.80" x2="353.00" y2="770.80" stroke="#000" stroke-width="1.60" />
<line x1="423.00" y1="767.80" x2="423.00" y2="770.80" stroke="#000" stroke-width="1.60" />
<line x1="470.90" y1="767.80" x2="470.90" y2="773.30" stroke="#000" stroke-width="1.60" />
<text x="470.90" y="804.00" font-size="25.00" text-anchor="middle" fill="#000" >0.0</text>
<line x1="541.30" y1="767.80" x2="541.30" y2="773.30" stroke="#000" stroke-width="1.60" />
<text x="541.30" y="804.00" font-size="25.00" text-anchor="middle" fill="#000" >0.5</text>
<line x1="611.70" y1="767.80" x2="611.70" y2="773.30" stroke="#000" stroke-width="1.60" />
<text x="611.70" y="804.00" font-size="25.00" text-anchor="middle" fill="#000" >1.0</text>
<line x1="682.10" y1="767.80" x2="682.10" y2="773.30" stroke="#000" stroke-width="1.60" />
<text x="682.10" y="804.00" font-size="25.00" text-anchor="middle" fill="#000" >1.5</text>
<line x1="752.50" y1="767.80" x2="752.50" y2="773.30" stroke="#000" stroke-width="1.60" />
<text x="752.50" y="804.00" font-size="25.00" text-anchor="middle" fill="#000" >2.0</text>
<line x1="822.90" y1="767.80" x2="822.90" y2="773.30" stroke="#000" stroke-width="1.60" />
<text x="822.90" y="804.00" font-size="25.00" text-anchor="middle" fill="#000" >2.5</text>
<line x1="506.10" y1="767.80" x2="506.10" y2="770.80" stroke="#000" stroke-width="1.60" />
<line x1="576.50" y1="767.80" x2="576.50" y2="770.80" stroke="#000" stroke-width="1.60" />
<line x1="646.90" y1="767.80" x2="646.90" y2="770.80" stroke="#000" stroke-width="1.60" />
<line x1="717.30" y1="767.80" x2="717.30" y2="770.80" stroke="#000" stroke-width="1.60" />
<line x1="787.70" y1="767.80" x2="787.70" y2="770.80" stroke="#000" stroke-width="1.60" />
<text x="181.50" y="123.80" font-size="24.90" fill="#c267b0">1.343 eV</text>
<text x="558.60" y="116.00" font-size="24.90" fill="#c6a2b3">1.550 eV</text>
<text x="182.50" y="463.90" font-size="24.90" fill="#a2b4c6">1.761 eV</text>
<text x="568.30" y="464.10" font-size="24.90" fill="#1b4f80">1.937 eV</text>
<text x="400.20" y="293.80" font-size="25.90" fill="#000" font-style="italic">H</text>
<text x="417.14" y="302.00" font-size="16.70" fill="#000">sf</text>
<text x="766.12" y="290.80" font-size="28.60" fill="#000" font-style="italic">H</text>
<text x="785.14" y="299.90" font-size="16.60" fill="#000">sf</text>
<text x="188.02" y="610.90" font-size="28.60" fill="#000" font-style="italic">H</text>
<text x="205.96" y="620.00" font-size="15.70" fill="#000">t1</text>
<text x="317.22" y="611.10" font-size="28.60" fill="#000" font-style="italic">H</text>
<text x="335.97" y="619.60" font-size="15.50" fill="#000">t2</text>
<text x="402.12" y="608.20" font-size="28.60" fill="#000" font-style="italic">H</text>
<text x="420.17" y="616.60" font-size="15.60" fill="#000">sf</text>
<text x="549.22" y="606.90" font-size="28.60" fill="#000" font-style="italic">H</text>
<text x="567.86" y="615.90" font-size="15.70" fill="#000">t1</text>
<text x="700.32" y="608.00" font-size="28.60" fill="#000" font-style="italic">H</text>
<text x="718.97" y="616.50" font-size="15.50" fill="#000">t2</text>
<text x="769.32" y="605.10" font-size="28.60" fill="#000" font-style="italic">H</text>
<text x="788.17" y="613.60" font-size="15.60" fill="#000">sf</text>
<text transform="translate(20.00 339.06) rotate(-90)" font-size="25.00" fill="#000">normalized</text>
<text transform="translate(20.00 208.59) rotate(-90)" font-size="25.00" fill="#000" font-style="italic">I</text>
<text transform="translate(29.00 203.41) rotate(-90)" font-size="16.40" fill="#000">light</text>
<text transform="translate(20.00 678.16) rotate(-90)" font-size="25.00" fill="#000">normalized</text>
<text transform="translate(20.00 547.69) rotate(-90)" font-size="25.00" fill="#000" font-style="italic">I</text>
<text transform="translate(29.00 542.51) rotate(-90)" font-size="16.40" fill="#000">light</text>
<text x="249.62" y="841.80" font-size="24.80" fill="#000" font-style="italic">μ</text>
<text x="264.74" y="850.00" font-size="16.80" fill="#000">0</text>
<text x="275.11" y="841.80" font-size="25.80" fill="#000" font-style="italic">H</text>
<text x="299.00" y="841.80" font-size="25.80" fill="#000">(T)</text>
<text x="885.27" y="30.00" font-size="44.50" fill="#000" font-weight="bold">b</text>
<path d="M1015.90 168.20 C1017.00 168.57 1020.68 169.43 1022.50 170.40 C1024.32 171.37 1025.60 172.30 1026.80 174.00 C1028.00 175.70 1028.73 177.33 1029.70 180.60 C1030.67 183.87 1031.62 188.27 1032.60 193.60 C1033.58 198.93 1034.62 205.80 1035.60 212.60 C1036.58 219.40 1037.53 226.65 1038.50 234.40 C1039.47 242.15 1040.55 253.28 1041.40 259.10 C1042.25 264.92 1042.75 268.57 1043.60 269.30 C1044.45 270.03 1045.42 267.62 1046.50 263.50 C1047.58 259.38 1048.90 250.30 1050.10 244.60 C1051.30 238.90 1052.48 232.58 1053.70 229.30 C1054.92 226.02 1056.18 224.90 1057.40 224.90 C1058.62 224.90 1059.78 226.98 1061.00 229.30 C1062.22 231.62 1063.37 235.05 1064.70 238.80 C1066.03 242.55 1067.32 247.45 1069.00 251.80 C1070.68 256.15 1072.85 261.25 1074.80 264.90 C1076.75 268.55 1078.75 271.52 1080.70 273.70 C1082.65 275.88 1084.82 277.52 1086.50 278.00 C1088.18 278.48 1089.35 278.28 1090.80 276.60 C1092.25 274.92 1093.50 272.03 1095.20 267.90 C1096.90 263.77 1099.07 256.65 1101.00 251.80 C1102.93 246.95 1104.62 242.92 1106.80 238.80 C1108.98 234.68 1111.67 230.50 1114.10 227.10 C1116.53 223.70 1119.17 221.08 1121.40 218.40 C1123.63 215.72 1125.25 213.10 1127.50 211.00 C1129.75 208.90 1132.42 207.53 1134.90 205.80 C1137.38 204.07 1139.92 202.47 1142.40 200.60 C1144.88 198.73 1146.08 196.83 1149.80 194.60 C1153.52 192.37 1159.73 189.43 1164.70 187.20 C1169.67 184.97 1174.63 182.93 1179.60 181.20 C1184.57 179.47 1189.53 177.98 1194.50 176.80 C1199.47 175.62 1204.43 175.10 1209.40 174.10 C1214.37 173.10 1220.57 171.85 1224.30 170.80 C1228.03 169.75 1229.32 168.92 1231.80 167.80 C1234.28 166.68 1235.48 165.27 1239.20 164.10 C1242.92 162.93 1249.12 161.92 1254.10 160.80 C1259.08 159.68 1264.12 158.83 1269.10 157.40 C1274.08 155.97 1279.03 154.18 1284.00 152.20 C1288.97 150.22 1294.43 147.50 1298.90 145.50 C1303.37 143.50 1307.08 142.68 1310.80 140.20 C1314.52 137.72 1318.17 132.97 1321.20 130.60 C1324.23 128.23 1326.08 127.88 1329.00 126.00 C1331.92 124.12 1335.62 121.98 1338.70 119.30 C1341.78 116.62 1344.58 113.42 1347.50 109.90 C1350.42 106.38 1353.78 102.57 1356.20 98.20 C1358.62 93.83 1360.07 88.78 1362.00 83.70 C1363.93 78.62 1365.85 71.95 1367.80 67.70 C1369.75 63.45 1372.00 60.10 1373.70 58.20 C1375.40 56.30 1376.30 56.05 1378.00 56.30 C1379.70 56.55 1381.95 57.08 1383.90 59.70 C1385.85 62.32 1387.77 67.28 1389.70 72.00 C1391.63 76.72 1393.57 82.42 1395.50 88.00 C1397.43 93.58 1399.48 101.00 1401.30 105.50 C1403.12 110.00 1404.82 114.75 1406.40 115.00 C1407.98 115.25 1409.47 111.73 1410.80 107.00 C1412.13 102.27 1413.18 93.28 1414.40 86.60 C1415.62 79.92 1417.13 70.78 1418.10 66.90 C1419.07 63.02 1419.35 62.93 1420.20 63.30 C1421.05 63.67 1422.22 64.25 1423.20 69.10 C1424.18 73.95 1425.13 84.15 1426.10 92.40 C1427.07 100.65 1428.03 110.83 1429.00 118.60 C1429.97 126.37 1430.68 132.93 1431.90 139.00 C1433.12 145.07 1434.60 150.88 1436.30 155.00 C1438.00 159.12 1440.28 161.88 1442.10 163.70 C1443.92 165.52 1446.35 165.53 1447.20 165.90 L1447.20 168.30 L1015.90 168.30 Z" fill="#f9e4e6" stroke="none"/>
<path d="M1015.90 168.20 C1016.87 168.03 1019.75 167.13 1021.70 167.20 C1023.65 167.27 1025.90 167.70 1027.60 168.60 C1029.30 169.50 1030.57 170.60 1031.90 172.60 C1033.23 174.60 1034.38 177.10 1035.60 180.60 C1036.82 184.10 1038.00 188.75 1039.20 193.60 C1040.40 198.45 1041.58 204.60 1042.80 209.70 C1044.02 214.80 1045.28 219.85 1046.50 224.20 C1047.72 228.55 1048.77 233.08 1050.10 235.80 C1051.43 238.52 1053.05 239.88 1054.50 240.50 C1055.95 241.12 1057.10 240.28 1058.80 239.50 C1060.50 238.72 1062.52 237.13 1064.70 235.80 C1066.88 234.47 1069.97 232.70 1071.90 231.50 C1073.83 230.30 1074.35 229.93 1076.30 228.60 C1078.25 227.27 1080.93 225.57 1083.60 223.50 C1086.27 221.43 1089.88 218.02 1092.30 216.20 C1094.72 214.38 1095.92 213.68 1098.10 212.60 C1100.28 211.52 1102.73 211.03 1105.40 209.70 C1108.07 208.37 1111.67 205.98 1114.10 204.60 C1116.53 203.22 1116.53 203.55 1120.00 201.40 C1123.47 199.25 1129.93 194.32 1134.90 191.70 C1139.87 189.08 1144.83 187.57 1149.80 185.70 C1154.77 183.83 1159.73 181.98 1164.70 180.50 C1169.67 179.02 1174.63 177.87 1179.60 176.80 C1184.57 175.73 1189.53 174.85 1194.50 174.10 C1199.47 173.35 1204.43 172.97 1209.40 172.30 C1214.37 171.63 1220.57 170.85 1224.30 170.10 C1228.03 169.35 1229.32 168.55 1231.80 167.80 C1234.28 167.05 1235.48 166.47 1239.20 165.60 C1242.92 164.73 1249.12 163.60 1254.10 162.60 C1259.08 161.60 1264.12 160.60 1269.10 159.60 C1274.08 158.60 1279.03 157.72 1284.00 156.60 C1288.97 155.48 1293.93 154.38 1298.90 152.90 C1303.87 151.42 1308.78 149.38 1313.80 147.70 C1318.82 146.02 1324.85 144.25 1329.00 142.80 C1333.15 141.35 1335.62 140.25 1338.70 139.00 C1341.78 137.75 1344.10 137.12 1347.50 135.30 C1350.90 133.48 1355.22 130.28 1359.10 128.10 C1362.98 125.92 1367.65 124.15 1370.80 122.20 C1373.95 120.25 1375.58 118.58 1378.00 116.40 C1380.42 114.22 1382.87 110.92 1385.30 109.10 C1387.73 107.28 1390.17 107.07 1392.60 105.50 C1395.03 103.93 1397.72 101.40 1399.90 99.70 C1402.08 98.00 1404.13 96.40 1405.70 95.30 C1407.27 94.20 1408.08 93.15 1409.30 93.10 C1410.52 93.05 1411.67 92.93 1413.00 95.00 C1414.33 97.07 1415.85 101.32 1417.30 105.50 C1418.75 109.68 1420.23 114.52 1421.70 120.10 C1423.17 125.68 1424.65 133.43 1426.10 139.00 C1427.55 144.57 1428.95 149.62 1430.40 153.50 C1431.85 157.38 1433.10 160.35 1434.80 162.30 C1436.50 164.25 1438.53 164.83 1440.60 165.20 C1442.67 165.57 1446.10 164.62 1447.20 164.50 L1447.20 168.30 L1015.90 168.30 Z" fill="#efefef" stroke="none"/>
<line x1="992.50" y1="168.30" x2="1470.00" y2="168.30" stroke="#555" stroke-width="1.50" stroke-dasharray="3.5 2.5" stroke-dashoffset="1"/>
<line x1="1035.20" y1="28.30" x2="1035.20" y2="874.20" stroke="#5a5a5a" stroke-width="1.80" stroke-dasharray="5.90 3.10" stroke-dashoffset="3.20"/>
<line x1="1427.40" y1="28.30" x2="1427.40" y2="874.20" stroke="#5a5a5a" stroke-width="1.80" stroke-dasharray="5.90 3.10" stroke-dashoffset="3.20"/>
<line x1="1066.20" y1="246.00" x2="1066.20" y2="644.50" stroke="#c50d2b" stroke-width="2.20" stroke-dasharray="6.50 2.60" stroke-dashoffset="2.00"/>
<line x1="1392.00" y1="83.70" x2="1392.00" y2="637.50" stroke="#c50d2b" stroke-width="2.20" stroke-dasharray="6.50 2.60" stroke-dashoffset="3.50"/>
<path d="M1015.90 168.20 C1017.00 168.57 1020.68 169.43 1022.50 170.40 C1024.32 171.37 1025.60 172.30 1026.80 174.00 C1028.00 175.70 1028.73 177.33 1029.70 180.60 C1030.67 183.87 1031.62 188.27 1032.60 193.60 C1033.58 198.93 1034.62 205.80 1035.60 212.60 C1036.58 219.40 1037.53 226.65 1038.50 234.40 C1039.47 242.15 1040.55 253.28 1041.40 259.10 C1042.25 264.92 1042.75 268.57 1043.60 269.30 C1044.45 270.03 1045.42 267.62 1046.50 263.50 C1047.58 259.38 1048.90 250.30 1050.10 244.60 C1051.30 238.90 1052.48 232.58 1053.70 229.30 C1054.92 226.02 1056.18 224.90 1057.40 224.90 C1058.62 224.90 1059.78 226.98 1061.00 229.30 C1062.22 231.62 1063.37 235.05 1064.70 238.80 C1066.03 242.55 1067.32 247.45 1069.00 251.80 C1070.68 256.15 1072.85 261.25 1074.80 264.90 C1076.75 268.55 1078.75 271.52 1080.70 273.70 C1082.65 275.88 1084.82 277.52 1086.50 278.00 C1088.18 278.48 1089.35 278.28 1090.80 276.60 C1092.25 274.92 1093.50 272.03 1095.20 267.90 C1096.90 263.77 1099.07 256.65 1101.00 251.80 C1102.93 246.95 1104.62 242.92 1106.80 238.80 C1108.98 234.68 1111.67 230.50 1114.10 227.10 C1116.53 223.70 1119.17 221.08 1121.40 218.40 C1123.63 215.72 1125.25 213.10 1127.50 211.00 C1129.75 208.90 1132.42 207.53 1134.90 205.80 C1137.38 204.07 1139.92 202.47 1142.40 200.60 C1144.88 198.73 1146.08 196.83 1149.80 194.60 C1153.52 192.37 1159.73 189.43 1164.70 187.20 C1169.67 184.97 1174.63 182.93 1179.60 181.20 C1184.57 179.47 1189.53 177.98 1194.50 176.80 C1199.47 175.62 1204.43 175.10 1209.40 174.10 C1214.37 173.10 1220.57 171.85 1224.30 170.80 C1228.03 169.75 1229.32 168.92 1231.80 167.80 C1234.28 166.68 1235.48 165.27 1239.20 164.10 C1242.92 162.93 1249.12 161.92 1254.10 160.80 C1259.08 159.68 1264.12 158.83 1269.10 157.40 C1274.08 155.97 1279.03 154.18 1284.00 152.20 C1288.97 150.22 1294.43 147.50 1298.90 145.50 C1303.37 143.50 1307.08 142.68 1310.80 140.20 C1314.52 137.72 1318.17 132.97 1321.20 130.60 C1324.23 128.23 1326.08 127.88 1329.00 126.00 C1331.92 124.12 1335.62 121.98 1338.70 119.30 C1341.78 116.62 1344.58 113.42 1347.50 109.90 C1350.42 106.38 1353.78 102.57 1356.20 98.20 C1358.62 93.83 1360.07 88.78 1362.00 83.70 C1363.93 78.62 1365.85 71.95 1367.80 67.70 C1369.75 63.45 1372.00 60.10 1373.70 58.20 C1375.40 56.30 1376.30 56.05 1378.00 56.30 C1379.70 56.55 1381.95 57.08 1383.90 59.70 C1385.85 62.32 1387.77 67.28 1389.70 72.00 C1391.63 76.72 1393.57 82.42 1395.50 88.00 C1397.43 93.58 1399.48 101.00 1401.30 105.50 C1403.12 110.00 1404.82 114.75 1406.40 115.00 C1407.98 115.25 1409.47 111.73 1410.80 107.00 C1412.13 102.27 1413.18 93.28 1414.40 86.60 C1415.62 79.92 1417.13 70.78 1418.10 66.90 C1419.07 63.02 1419.35 62.93 1420.20 63.30 C1421.05 63.67 1422.22 64.25 1423.20 69.10 C1424.18 73.95 1425.13 84.15 1426.10 92.40 C1427.07 100.65 1428.03 110.83 1429.00 118.60 C1429.97 126.37 1430.68 132.93 1431.90 139.00 C1433.12 145.07 1434.60 150.88 1436.30 155.00 C1438.00 159.12 1440.28 161.88 1442.10 163.70 C1443.92 165.52 1446.35 165.53 1447.20 165.90" stroke="#c50d2b" stroke-width="2.50" fill="none" stroke-linejoin="round" stroke-linecap="round" />
<path d="M1015.90 168.20 C1016.87 168.03 1019.75 167.13 1021.70 167.20 C1023.65 167.27 1025.90 167.70 1027.60 168.60 C1029.30 169.50 1030.57 170.60 1031.90 172.60 C1033.23 174.60 1034.38 177.10 1035.60 180.60 C1036.82 184.10 1038.00 188.75 1039.20 193.60 C1040.40 198.45 1041.58 204.60 1042.80 209.70 C1044.02 214.80 1045.28 219.85 1046.50 224.20 C1047.72 228.55 1048.77 233.08 1050.10 235.80 C1051.43 238.52 1053.05 239.88 1054.50 240.50 C1055.95 241.12 1057.10 240.28 1058.80 239.50 C1060.50 238.72 1062.52 237.13 1064.70 235.80 C1066.88 234.47 1069.97 232.70 1071.90 231.50 C1073.83 230.30 1074.35 229.93 1076.30 228.60 C1078.25 227.27 1080.93 225.57 1083.60 223.50 C1086.27 221.43 1089.88 218.02 1092.30 216.20 C1094.72 214.38 1095.92 213.68 1098.10 212.60 C1100.28 211.52 1102.73 211.03 1105.40 209.70 C1108.07 208.37 1111.67 205.98 1114.10 204.60 C1116.53 203.22 1116.53 203.55 1120.00 201.40 C1123.47 199.25 1129.93 194.32 1134.90 191.70 C1139.87 189.08 1144.83 187.57 1149.80 185.70 C1154.77 183.83 1159.73 181.98 1164.70 180.50 C1169.67 179.02 1174.63 177.87 1179.60 176.80 C1184.57 175.73 1189.53 174.85 1194.50 174.10 C1199.47 173.35 1204.43 172.97 1209.40 172.30 C1214.37 171.63 1220.57 170.85 1224.30 170.10 C1228.03 169.35 1229.32 168.55 1231.80 167.80 C1234.28 167.05 1235.48 166.47 1239.20 165.60 C1242.92 164.73 1249.12 163.60 1254.10 162.60 C1259.08 161.60 1264.12 160.60 1269.10 159.60 C1274.08 158.60 1279.03 157.72 1284.00 156.60 C1288.97 155.48 1293.93 154.38 1298.90 152.90 C1303.87 151.42 1308.78 149.38 1313.80 147.70 C1318.82 146.02 1324.85 144.25 1329.00 142.80 C1333.15 141.35 1335.62 140.25 1338.70 139.00 C1341.78 137.75 1344.10 137.12 1347.50 135.30 C1350.90 133.48 1355.22 130.28 1359.10 128.10 C1362.98 125.92 1367.65 124.15 1370.80 122.20 C1373.95 120.25 1375.58 118.58 1378.00 116.40 C1380.42 114.22 1382.87 110.92 1385.30 109.10 C1387.73 107.28 1390.17 107.07 1392.60 105.50 C1395.03 103.93 1397.72 101.40 1399.90 99.70 C1402.08 98.00 1404.13 96.40 1405.70 95.30 C1407.27 94.20 1408.08 93.15 1409.30 93.10 C1410.52 93.05 1411.67 92.93 1413.00 95.00 C1414.33 97.07 1415.85 101.32 1417.30 105.50 C1418.75 109.68 1420.23 114.52 1421.70 120.10 C1423.17 125.68 1424.65 133.43 1426.10 139.00 C1427.55 144.57 1428.95 149.62 1430.40 153.50 C1431.85 157.38 1433.10 160.35 1434.80 162.30 C1436.50 164.25 1438.53 164.83 1440.60 165.20 C1442.67 165.57 1446.10 164.62 1447.20 164.50" stroke="#000" stroke-width="2.50" fill="none" stroke-linejoin="round" stroke-linecap="round" />
<g fill="#231815"><circle cx="1016.2" cy="439.5" r="1.25"/><circle cx="1017.8" cy="439.5" r="1.25"/><circle cx="1019.4" cy="439.5" r="1.25"/><circle cx="1021.0" cy="439.6" r="1.25"/><circle cx="1022.6" cy="439.6" r="1.25"/><circle cx="1024.2" cy="439.6" r="1.25"/><circle cx="1025.8" cy="439.6" r="1.25"/><circle cx="1027.4" cy="439.7" r="1.25"/><circle cx="1029.0" cy="439.7" r="1.25"/><circle cx="1030.6" cy="439.7" r="1.25"/><circle cx="1032.2" cy="439.8" r="1.25"/><circle cx="1033.8" cy="439.8" r="1.25"/><circle cx="1035.4" cy="439.9" r="1.25"/><circle cx="1037.0" cy="440.0" r="1.25"/><circle cx="1038.6" cy="440.1" r="1.25"/><circle cx="1040.2" cy="441.3" r="1.25"/><circle cx="1041.8" cy="443.3" r="1.25"/><circle cx="1043.4" cy="445.9" r="1.25"/><circle cx="1045.0" cy="448.6" r="1.25"/><circle cx="1046.6" cy="451.3" r="1.25"/><circle cx="1048.2" cy="454.2" r="1.25"/><circle cx="1049.8" cy="457.0" r="1.25"/><circle cx="1051.4" cy="459.6" r="1.25"/><circle cx="1053.0" cy="462.1" r="1.25"/><circle cx="1054.6" cy="464.6" r="1.25"/><circle cx="1056.2" cy="467.3" r="1.25"/><circle cx="1057.8" cy="470.1" r="1.25"/><circle cx="1059.4" cy="473.0" r="1.25"/><circle cx="1061.0" cy="476.0" r="1.25"/><circle cx="1062.6" cy="478.9" r="1.25"/><circle cx="1064.2" cy="481.7" r="1.25"/><circle cx="1065.8" cy="484.5" r="1.25"/><circle cx="1067.4" cy="487.3" r="1.25"/><circle cx="1069.0" cy="490.2" r="1.25"/><circle cx="1070.6" cy="493.1" r="1.25"/><circle cx="1072.2" cy="495.9" r="1.25"/><circle cx="1073.8" cy="498.7" r="1.25"/><circle cx="1075.4" cy="501.3" r="1.25"/><circle cx="1077.0" cy="503.9" r="1.25"/><circle cx="1078.6" cy="506.4" r="1.25"/><circle cx="1080.2" cy="508.8" r="1.25"/><circle cx="1081.8" cy="511.0" r="1.25"/><circle cx="1083.4" cy="513.2" r="1.25"/><circle cx="1085.0" cy="515.3" r="1.25"/><circle cx="1086.6" cy="517.4" r="1.25"/><circle cx="1088.2" cy="519.4" r="1.25"/><circle cx="1089.8" cy="521.4" r="1.25"/><circle cx="1091.4" cy="523.3" r="1.25"/><circle cx="1093.0" cy="525.2" r="1.25"/><circle cx="1094.6" cy="527.0" r="1.25"/><circle cx="1096.2" cy="528.7" r="1.25"/><circle cx="1097.8" cy="530.3" r="1.25"/><circle cx="1099.4" cy="531.8" r="1.25"/><circle cx="1101.0" cy="533.4" r="1.25"/><circle cx="1102.6" cy="535.0" r="1.25"/><circle cx="1104.2" cy="536.8" r="1.25"/><circle cx="1105.8" cy="538.6" r="1.25"/><circle cx="1107.4" cy="540.4" r="1.25"/><circle cx="1109.0" cy="542.2" r="1.25"/><circle cx="1110.6" cy="543.9" r="1.25"/><circle cx="1112.2" cy="545.6" r="1.25"/><circle cx="1113.8" cy="547.3" r="1.25"/><circle cx="1115.4" cy="548.9" r="1.25"/><circle cx="1117.0" cy="550.4" r="1.25"/><circle cx="1118.6" cy="551.9" r="1.25"/><circle cx="1120.2" cy="553.3" r="1.25"/><circle cx="1121.8" cy="554.6" r="1.25"/><circle cx="1123.4" cy="555.9" r="1.25"/><circle cx="1125.0" cy="557.1" r="1.25"/><circle cx="1126.6" cy="558.4" r="1.25"/><circle cx="1128.2" cy="559.6" r="1.25"/><circle cx="1129.8" cy="560.8" r="1.25"/><circle cx="1131.4" cy="561.9" r="1.25"/><circle cx="1133.0" cy="563.1" r="1.25"/><circle cx="1134.6" cy="564.2" r="1.25"/><circle cx="1136.2" cy="565.2" r="1.25"/><circle cx="1137.8" cy="566.2" r="1.25"/><circle cx="1139.4" cy="567.2" r="1.25"/><circle cx="1141.0" cy="568.1" r="1.25"/><circle cx="1142.6" cy="569.0" r="1.25"/><circle cx="1144.2" cy="569.8" r="1.25"/><circle cx="1145.8" cy="570.6" r="1.25"/><circle cx="1147.4" cy="571.4" r="1.25"/><circle cx="1149.0" cy="572.1" r="1.25"/><circle cx="1150.6" cy="572.7" r="1.25"/><circle cx="1152.2" cy="573.3" r="1.25"/><circle cx="1153.8" cy="573.9" r="1.25"/><circle cx="1155.4" cy="574.4" r="1.25"/><circle cx="1157.0" cy="575.0" r="1.25"/><circle cx="1158.6" cy="575.6" r="1.25"/><circle cx="1160.2" cy="576.1" r="1.25"/><circle cx="1161.8" cy="576.7" r="1.25"/><circle cx="1163.4" cy="577.2" r="1.25"/><circle cx="1165.0" cy="577.8" r="1.25"/><circle cx="1166.6" cy="578.4" r="1.25"/><circle cx="1168.2" cy="579.0" r="1.25"/><circle cx="1169.8" cy="579.6" r="1.25"/><circle cx="1171.4" cy="580.2" r="1.25"/><circle cx="1173.0" cy="580.8" r="1.25"/><circle cx="1174.6" cy="581.4" r="1.25"/><circle cx="1176.2" cy="581.9" r="1.25"/><circle cx="1177.8" cy="582.4" r="1.25"/><circle cx="1179.4" cy="582.8" r="1.25"/><circle cx="1181.0" cy="583.2" r="1.25"/><circle cx="1182.6" cy="583.6" r="1.25"/><circle cx="1184.2" cy="583.9" r="1.25"/><circle cx="1185.8" cy="584.3" r="1.25"/><circle cx="1187.4" cy="584.7" r="1.25"/><circle cx="1189.0" cy="585.0" r="1.25"/><circle cx="1190.6" cy="585.3" r="1.25"/><circle cx="1192.2" cy="585.7" r="1.25"/><circle cx="1193.8" cy="586.0" r="1.25"/><circle cx="1195.4" cy="586.3" r="1.25"/><circle cx="1197.0" cy="586.6" r="1.25"/><circle cx="1198.6" cy="586.9" r="1.25"/><circle cx="1200.2" cy="587.1" r="1.25"/><circle cx="1201.8" cy="587.4" r="1.25"/><circle cx="1203.4" cy="587.6" r="1.25"/><circle cx="1205.0" cy="587.9" r="1.25"/><circle cx="1206.6" cy="588.1" r="1.25"/><circle cx="1208.2" cy="588.3" r="1.25"/><circle cx="1209.8" cy="588.5" r="1.25"/><circle cx="1211.4" cy="588.7" r="1.25"/><circle cx="1213.0" cy="588.8" r="1.25"/><circle cx="1214.6" cy="589.0" r="1.25"/><circle cx="1216.2" cy="589.2" r="1.25"/><circle cx="1217.8" cy="589.3" r="1.25"/><circle cx="1219.4" cy="589.4" r="1.25"/><circle cx="1221.0" cy="589.5" r="1.25"/><circle cx="1222.6" cy="589.6" r="1.25"/><circle cx="1224.2" cy="589.7" r="1.25"/><circle cx="1225.8" cy="589.8" r="1.25"/><circle cx="1227.4" cy="589.9" r="1.25"/><circle cx="1229.0" cy="589.9" r="1.25"/><circle cx="1230.6" cy="589.9" r="1.25"/><circle cx="1232.2" cy="589.9" r="1.25"/><circle cx="1233.8" cy="589.9" r="1.25"/><circle cx="1235.4" cy="589.8" r="1.25"/><circle cx="1237.0" cy="589.7" r="1.25"/><circle cx="1238.6" cy="589.6" r="1.25"/><circle cx="1240.2" cy="589.5" r="1.25"/><circle cx="1241.8" cy="589.3" r="1.25"/><circle cx="1243.4" cy="589.1" r="1.25"/><circle cx="1245.0" cy="588.8" r="1.25"/><circle cx="1246.6" cy="588.6" r="1.25"/><circle cx="1248.2" cy="588.3" r="1.25"/><circle cx="1249.8" cy="588.1" r="1.25"/><circle cx="1251.4" cy="587.8" r="1.25"/><circle cx="1253.0" cy="587.5" r="1.25"/><circle cx="1254.6" cy="587.3" r="1.25"/><circle cx="1256.2" cy="587.0" r="1.25"/><circle cx="1257.8" cy="586.8" r="1.25"/><circle cx="1259.4" cy="586.6" r="1.25"/><circle cx="1261.0" cy="586.3" r="1.25"/><circle cx="1262.6" cy="586.1" r="1.25"/><circle cx="1264.2" cy="585.8" r="1.25"/><circle cx="1265.8" cy="585.6" r="1.25"/><circle cx="1267.4" cy="585.3" r="1.25"/><circle cx="1269.0" cy="585.0" r="1.25"/><circle cx="1270.6" cy="584.7" r="1.25"/><circle cx="1272.2" cy="584.4" r="1.25"/><circle cx="1273.8" cy="584.1" r="1.25"/><circle cx="1275.4" cy="583.8" r="1.25"/><circle cx="1277.0" cy="583.4" r="1.25"/><circle cx="1278.6" cy="583.1" r="1.25"/><circle cx="1280.2" cy="582.7" r="1.25"/><circle cx="1281.8" cy="582.4" r="1.25"/><circle cx="1283.4" cy="582.0" r="1.25"/><circle cx="1285.0" cy="581.7" r="1.25"/><circle cx="1286.6" cy="581.3" r="1.25"/><circle cx="1288.2" cy="580.9" r="1.25"/><circle cx="1289.8" cy="580.5" r="1.25"/><circle cx="1291.4" cy="580.0" r="1.25"/><circle cx="1293.0" cy="579.5" r="1.25"/><circle cx="1294.6" cy="578.9" r="1.25"/><circle cx="1296.2" cy="578.4" r="1.25"/><circle cx="1297.8" cy="577.7" r="1.25"/><circle cx="1299.4" cy="577.1" r="1.25"/><circle cx="1301.0" cy="576.4" r="1.25"/><circle cx="1302.6" cy="575.7" r="1.25"/><circle cx="1304.2" cy="575.0" r="1.25"/><circle cx="1305.8" cy="574.3" r="1.25"/><circle cx="1307.4" cy="573.6" r="1.25"/><circle cx="1309.0" cy="572.8" r="1.25"/><circle cx="1310.6" cy="572.0" r="1.25"/><circle cx="1312.2" cy="571.2" r="1.25"/><circle cx="1313.8" cy="570.4" r="1.25"/><circle cx="1315.4" cy="569.5" r="1.25"/><circle cx="1317.0" cy="568.7" r="1.25"/><circle cx="1318.6" cy="567.8" r="1.25"/><circle cx="1320.2" cy="566.8" r="1.25"/><circle cx="1321.8" cy="565.9" r="1.25"/><circle cx="1323.4" cy="564.9" r="1.25"/><circle cx="1325.0" cy="563.9" r="1.25"/><circle cx="1326.6" cy="562.9" r="1.25"/><circle cx="1328.2" cy="562.0" r="1.25"/><circle cx="1329.8" cy="561.0" r="1.25"/><circle cx="1331.4" cy="560.1" r="1.25"/><circle cx="1333.0" cy="559.1" r="1.25"/><circle cx="1334.6" cy="558.2" r="1.25"/><circle cx="1336.2" cy="557.3" r="1.25"/><circle cx="1337.8" cy="556.4" r="1.25"/><circle cx="1339.4" cy="555.4" r="1.25"/><circle cx="1341.0" cy="554.4" r="1.25"/><circle cx="1342.6" cy="553.3" r="1.25"/><circle cx="1344.2" cy="552.2" r="1.25"/><circle cx="1345.8" cy="551.1" r="1.25"/><circle cx="1347.4" cy="549.9" r="1.25"/><circle cx="1349.0" cy="548.7" r="1.25"/><circle cx="1350.6" cy="547.4" r="1.25"/><circle cx="1352.2" cy="546.1" r="1.25"/><circle cx="1353.8" cy="544.7" r="1.25"/><circle cx="1355.4" cy="543.2" r="1.25"/><circle cx="1357.0" cy="541.7" r="1.25"/><circle cx="1358.6" cy="540.1" r="1.25"/><circle cx="1360.2" cy="538.5" r="1.25"/><circle cx="1361.8" cy="536.8" r="1.25"/><circle cx="1363.4" cy="535.1" r="1.25"/><circle cx="1365.0" cy="533.3" r="1.25"/><circle cx="1366.6" cy="531.5" r="1.25"/><circle cx="1368.2" cy="529.6" r="1.25"/><circle cx="1369.8" cy="527.6" r="1.25"/><circle cx="1371.4" cy="525.5" r="1.25"/><circle cx="1373.0" cy="523.4" r="1.25"/><circle cx="1374.6" cy="521.2" r="1.25"/><circle cx="1376.2" cy="519.1" r="1.25"/><circle cx="1377.8" cy="517.0" r="1.25"/><circle cx="1379.4" cy="514.9" r="1.25"/><circle cx="1381.0" cy="512.9" r="1.25"/><circle cx="1382.6" cy="510.9" r="1.25"/><circle cx="1384.2" cy="508.9" r="1.25"/><circle cx="1385.8" cy="506.8" r="1.25"/><circle cx="1387.4" cy="504.5" r="1.25"/><circle cx="1389.0" cy="501.9" r="1.25"/><circle cx="1390.6" cy="499.0" r="1.25"/><circle cx="1392.2" cy="496.3" r="1.25"/><circle cx="1393.8" cy="493.9" r="1.25"/><circle cx="1395.4" cy="491.5" r="1.25"/><circle cx="1397.0" cy="489.2" r="1.25"/><circle cx="1398.6" cy="486.8" r="1.25"/><circle cx="1400.2" cy="484.3" r="1.25"/><circle cx="1401.8" cy="481.7" r="1.25"/><circle cx="1403.4" cy="478.9" r="1.25"/><circle cx="1405.0" cy="476.1" r="1.25"/><circle cx="1406.6" cy="473.2" r="1.25"/><circle cx="1408.2" cy="470.2" r="1.25"/><circle cx="1409.8" cy="467.1" r="1.25"/><circle cx="1411.4" cy="463.9" r="1.25"/><circle cx="1413.0" cy="460.6" r="1.25"/><circle cx="1414.6" cy="457.3" r="1.25"/><circle cx="1416.2" cy="453.9" r="1.25"/><circle cx="1417.8" cy="450.2" r="1.25"/><circle cx="1419.4" cy="446.6" r="1.25"/><circle cx="1421.0" cy="443.8" r="1.25"/><circle cx="1422.6" cy="441.4" r="1.25"/><circle cx="1424.2" cy="439.5" r="1.25"/><circle cx="1425.8" cy="438.2" r="1.25"/><circle cx="1427.4" cy="437.4" r="1.25"/><circle cx="1429.0" cy="437.0" r="1.25"/><circle cx="1430.6" cy="436.9" r="1.25"/><circle cx="1432.2" cy="436.8" r="1.25"/><circle cx="1433.8" cy="436.7" r="1.25"/><circle cx="1435.4" cy="436.6" r="1.25"/><circle cx="1437.0" cy="436.5" r="1.25"/><circle cx="1438.6" cy="436.4" r="1.25"/><circle cx="1440.2" cy="436.3" r="1.25"/><circle cx="1441.8" cy="436.3" r="1.25"/><circle cx="1443.4" cy="436.2" r="1.25"/><circle cx="1445.0" cy="436.2" r="1.25"/><circle cx="1446.6" cy="436.1" r="1.25"/></g>
<path d="M1016.20 345.40 L1017.56 345.13 L1018.32 344.98 L1019.20 344.81 L1020.14 344.62 L1021.11 344.45 L1022.09 344.28 L1023.08 344.14 L1024.07 344.02 L1025.06 343.95 L1026.06 343.92 L1027.05 343.95 L1028.04 344.04 L1029.02 344.18 L1029.99 344.39 L1030.96 344.64 L1031.91 344.94 L1032.84 345.28 L1033.75 345.67 L1034.63 346.12 L1035.46 346.64 L1036.23 347.24 L1036.92 347.92 L1037.55 348.67 L1038.11 349.48 L1038.62 350.33 L1039.09 351.21 L1039.54 352.10 L1039.96 353.01 L1040.35 353.92 L1040.73 354.85 L1041.10 355.78 L1041.46 356.71 L1041.80 357.65 L1042.14 358.59 L1042.48 359.53 L1042.80 360.48 L1043.11 361.43 L1043.41 362.38 L1043.70 363.34 L1043.98 364.30 L1044.24 365.27 L1044.49 366.23 L1044.73 367.20 L1044.95 368.18 L1045.17 369.15 L1045.39 370.13 L1045.60 371.11 L1045.81 372.08 L1046.02 373.06 L1046.24 374.04 L1046.47 375.01 L1046.71 375.98 L1046.97 376.95 L1047.26 377.90 L1047.59 378.84 L1047.97 379.75 L1048.41 380.63 L1048.92 381.49 L1049.47 382.31 L1050.06 383.11 L1050.69 383.89 L1051.33 384.65 L1051.98 385.41 L1052.62 386.18 L1053.25 386.96 L1053.86 387.74 L1054.46 388.54 L1055.06 389.35 L1055.64 390.16 L1056.22 390.97 L1056.79 391.79 L1057.36 392.62 L1057.91 393.45 L1058.45 394.29 L1058.97 395.14 L1059.48 396.00 L1059.98 396.87 L1060.47 397.74 L1060.96 398.61 L1061.45 399.49 L1061.94 400.36 L1062.43 401.23 L1062.92 402.10 L1063.42 402.97 L1063.91 403.84 L1064.41 404.70 L1064.91 405.57 L1065.41 406.44 L1065.91 407.30 L1066.41 408.17 L1066.91 409.03 L1067.41 409.90 L1067.92 410.76 L1068.43 411.62 L1068.94 412.48 L1069.45 413.34 L1069.96 414.20 L1070.46 415.07 L1070.94 415.94 L1071.42 416.82 L1071.87 417.71 L1072.32 418.61 L1072.74 419.51 L1073.15 420.42 L1073.55 421.34 L1073.94 422.26 L1074.32 423.18 L1074.70 424.11 L1075.07 425.04 L1075.43 425.97 L1075.79 426.90 L1076.15 427.84 L1076.51 428.77 L1076.87 429.70 L1077.22 430.64 L1077.57 431.57 L1077.93 432.51 L1078.27 433.45 L1078.62 434.39 L1078.96 435.33 L1079.30 436.27 L1079.64 437.21 L1079.98 438.15 L1080.32 439.09 L1080.65 440.03 L1080.99 440.97 L1081.33 441.91 L1081.66 442.86 L1082.00 443.80 L1082.34 444.74 L1082.68 445.68 L1083.03 446.62 L1083.37 447.56 L1083.71 448.50 L1084.05 449.44 L1084.40 450.37 L1084.74 451.31 L1085.08 452.25 L1085.42 453.19 L1085.77 454.13 L1086.11 455.07 L1086.45 456.01 L1086.80 456.95 L1087.14 457.89 L1087.48 458.83 L1087.82 459.77 L1088.16 460.71 L1088.50 461.65 L1088.84 462.59 L1089.18 463.53 L1089.52 464.47 L1089.86 465.41 L1090.21 466.35 L1090.55 467.29 L1090.89 468.23 L1091.24 469.17 L1091.58 470.11 L1091.93 471.04 L1092.29 471.98 L1092.64 472.91 L1093.00 473.85 L1093.37 474.78 L1093.73 475.71 L1094.10 476.64 L1094.47 477.57 L1094.84 478.49 L1095.21 479.42 L1095.59 480.35 L1095.95 481.28 L1096.32 482.21 L1096.68 483.14 L1097.04 484.08 L1097.39 485.01 L1097.73 485.95 L1098.07 486.89 L1098.41 487.84 L1098.73 488.78 L1099.06 489.73 L1099.38 490.67 L1099.70 491.62 L1100.03 492.57 L1100.36 493.51 L1100.69 494.45 L1101.03 495.39 L1101.38 496.33 L1101.74 497.26 L1102.11 498.19 L1102.50 499.11 L1102.91 500.02 L1103.33 500.93 L1103.76 501.83 L1104.21 502.72 L1104.67 503.61 L1105.15 504.49 L1105.63 505.36 L1106.13 506.23 L1106.63 507.10 L1107.13 507.96 L1107.64 508.82 L1108.16 509.68 L1108.68 510.53 L1109.21 511.38 L1109.75 512.22 L1110.29 513.06 L1110.84 513.90 L1111.40 514.73 L1111.96 515.56 L1112.52 516.38 L1113.09 517.21 L1113.65 518.03 L1114.22 518.85 L1114.79 519.68 L1115.36 520.50 L1115.93 521.32 L1116.50 522.14 L1117.08 522.96 L1117.66 523.77 L1118.24 524.58 L1118.83 525.39 L1119.42 526.20 L1120.01 527.00 L1120.61 527.81 L1121.21 528.61 L1121.81 529.41 L1122.41 530.21 L1123.01 531.00 L1123.62 531.80 L1124.24 532.59 L1124.86 533.37 L1125.48 534.15 L1126.12 534.92 L1126.76 535.69 L1127.42 536.44 L1128.08 537.19 L1128.76 537.93 L1129.44 538.66 L1130.13 539.38 L1130.83 540.09 L1131.54 540.80 L1132.25 541.50 L1132.97 542.20 L1133.69 542.88 L1134.42 543.57 L1135.16 544.24 L1135.90 544.91 L1136.65 545.58 L1137.41 546.23 L1138.16 546.88 L1138.93 547.53 L1139.70 548.16 L1140.48 548.80 L1141.26 549.42 L1142.04 550.04 L1142.83 550.66 L1143.62 551.27 L1144.42 551.87 L1145.22 552.47 L1146.02 553.07 L1146.82 553.67 L1147.63 554.25 L1148.44 554.84 L1149.26 555.42 L1150.08 555.99 L1150.90 556.56 L1151.73 557.12 L1152.56 557.67 L1153.40 558.22 L1154.24 558.76 L1155.08 559.30 L1155.92 559.83 L1156.77 560.36 L1157.63 560.89 L1158.48 561.40 L1159.34 561.91 L1160.20 562.42 L1161.07 562.91 L1161.95 563.40 L1162.83 563.87 L1163.72 564.33 L1164.61 564.77 L1165.52 565.20 L1166.43 565.61 L1167.34 566.01 L1168.27 566.39 L1169.20 566.76 L1170.13 567.12 L1171.06 567.47 L1172.00 567.83 L1172.94 568.18 L1173.87 568.53 L1174.80 568.89 L1175.74 569.25 L1176.66 569.63 L1177.59 570.01 L1178.51 570.39 L1179.43 570.78 L1180.36 571.16 L1181.28 571.55 L1182.20 571.93 L1183.13 572.31 L1184.06 572.68 L1184.99 573.04 L1185.93 573.39 L1186.87 573.73 L1187.81 574.05 L1188.76 574.36 L1189.71 574.67 L1190.67 574.96 L1191.63 575.24 L1192.59 575.52 L1193.55 575.79 L1194.52 576.06 L1195.48 576.32 L1196.45 576.59 L1197.41 576.85 L1198.38 577.11 L1199.34 577.37 L1200.31 577.63 L1201.27 577.89 L1202.24 578.14 L1203.21 578.39 L1204.18 578.63 L1205.15 578.87 L1206.13 579.09 L1207.10 579.31 L1208.08 579.51 L1209.06 579.71 L1210.04 579.89 L1211.03 580.07 L1212.01 580.24 L1213.00 580.39 L1213.99 580.54 L1214.98 580.68 L1215.97 580.81 L1216.96 580.94 L1217.96 581.05 L1218.95 581.16 L1219.94 581.26 L1220.94 581.36 L1221.94 581.45 L1222.93 581.53 L1223.93 581.60 L1224.93 581.66 L1225.93 581.71 L1226.92 581.75 L1227.92 581.77 L1228.92 581.78 L1229.92 581.76 L1230.92 581.73 L1231.92 581.68 L1232.92 581.61 L1233.91 581.53 L1234.91 581.43 L1235.90 581.32 L1236.89 581.21 L1237.89 581.09 L1238.88 580.96 L1239.87 580.83 L1240.86 580.70 L1241.85 580.57 L1242.84 580.44 L1243.84 580.31 L1244.83 580.17 L1245.82 580.03 L1246.81 579.88 L1247.79 579.73 L1248.78 579.58 L1249.77 579.42 L1250.76 579.27 L1251.74 579.11 L1252.73 578.94 L1253.72 578.78 L1254.70 578.61 L1255.69 578.43 L1256.67 578.24 L1257.64 578.03 L1258.62 577.80 L1259.58 577.55 L1260.54 577.28 L1261.49 576.97 L1262.44 576.64 L1263.37 576.30 L1264.31 575.94 L1265.24 575.58 L1266.17 575.22 L1267.11 574.87 L1268.05 574.52 L1268.99 574.19 L1269.93 573.86 L1270.88 573.53 L1271.82 573.21 L1272.77 572.88 L1273.72 572.56 L1274.66 572.23 L1275.60 571.89 L1276.54 571.56 L1277.48 571.21 L1278.42 570.86 L1279.35 570.50 L1280.28 570.13 L1281.21 569.75 L1282.13 569.37 L1283.05 568.99 L1283.97 568.59 L1284.89 568.19 L1285.80 567.79 L1286.72 567.38 L1287.63 566.97 L1288.53 566.55 L1289.44 566.12 L1290.34 565.69 L1291.24 565.26 L1292.14 564.82 L1293.04 564.37 L1293.93 563.93 L1294.82 563.48 L1295.72 563.02 L1296.60 562.56 L1297.49 562.10 L1298.37 561.63 L1299.25 561.16 L1300.13 560.67 L1301.00 560.19 L1301.87 559.69 L1302.73 559.19 L1303.59 558.68 L1304.45 558.16 L1305.30 557.63 L1306.14 557.10 L1306.98 556.55 L1307.82 556.01 L1308.65 555.45 L1309.48 554.89 L1310.30 554.32 L1311.12 553.75 L1311.94 553.18 L1312.75 552.59 L1313.56 552.01 L1314.37 551.41 L1315.17 550.81 L1315.97 550.21 L1316.76 549.60 L1317.55 548.99 L1318.33 548.36 L1319.11 547.73 L1319.88 547.10 L1320.64 546.46 L1321.40 545.81 L1322.16 545.15 L1322.91 544.49 L1323.65 543.82 L1324.39 543.14 L1325.12 542.46 L1325.85 541.78 L1326.57 541.08 L1327.28 540.38 L1327.99 539.68 L1328.69 538.96 L1329.38 538.24 L1330.06 537.51 L1330.74 536.77 L1331.41 536.03 L1332.08 535.29 L1332.75 534.55 L1333.42 533.81 L1334.09 533.07 L1334.77 532.34 L1335.47 531.61 L1336.17 530.91 L1336.89 530.22 L1337.63 529.54 L1338.38 528.88 L1339.12 528.21 L1339.86 527.54 L1340.57 526.84 L1341.27 526.13 L1341.95 525.40 L1342.61 524.65 L1343.26 523.89 L1343.90 523.12 L1344.53 522.35 L1345.16 521.57 L1345.77 520.78 L1346.38 519.98 L1346.98 519.18 L1347.57 518.38 L1348.15 517.56 L1348.73 516.75 L1349.30 515.93 L1349.87 515.11 L1350.43 514.28 L1350.99 513.45 L1351.54 512.61 L1352.09 511.78 L1352.63 510.94 L1353.17 510.10 L1353.71 509.25 L1354.24 508.41 L1354.77 507.56 L1355.30 506.71 L1355.82 505.85 L1356.34 505.00 L1356.86 504.14 L1357.37 503.29 L1357.88 502.43 L1358.39 501.57 L1358.89 500.70 L1359.39 499.83 L1359.88 498.96 L1360.37 498.09 L1360.85 497.21 L1361.32 496.33 L1361.79 495.45 L1362.25 494.56 L1362.70 493.67 L1363.14 492.77 L1363.57 491.87 L1363.99 490.96 L1364.41 490.05 L1364.81 489.14 L1365.21 488.22 L1365.60 487.30 L1365.99 486.38 L1366.37 485.45 L1366.74 484.52 L1367.10 483.59 L1367.46 482.66 L1367.82 481.72 L1368.16 480.79 L1368.50 479.85 L1368.84 478.91 L1369.17 477.96 L1369.49 477.01 L1369.81 476.07 L1370.12 475.12 L1370.43 474.17 L1370.74 473.21 L1371.05 472.26 L1371.35 471.31 L1371.66 470.36 L1371.97 469.41 L1372.27 468.46 L1372.59 467.51 L1372.90 466.56 L1373.22 465.61 L1373.55 464.67 L1373.88 463.72 L1374.21 462.78 L1374.55 461.84 L1374.89 460.90 L1375.24 459.96 L1375.59 459.02 L1375.94 458.09 L1376.29 457.15 L1376.64 456.21 L1377.00 455.28 L1377.35 454.34 L1377.71 453.41 L1378.06 452.47 L1378.42 451.54 L1378.77 450.60 L1379.12 449.67 L1379.47 448.73 L1379.83 447.80 L1380.18 446.86 L1380.53 445.92 L1380.88 444.99 L1381.23 444.05 L1381.59 443.12 L1381.94 442.18 L1382.29 441.24 L1382.64 440.31 L1382.99 439.37 L1383.35 438.44 L1383.70 437.50 L1384.05 436.56 L1384.40 435.63 L1384.75 434.69 L1385.10 433.75 L1385.44 432.81 L1385.79 431.88 L1386.13 430.94 L1386.47 429.99 L1386.81 429.05 L1387.15 428.11 L1387.49 427.17 L1387.83 426.23 L1388.17 425.29 L1388.52 424.36 L1388.87 423.42 L1389.23 422.49 L1389.60 421.56 L1389.97 420.63 L1390.35 419.71 L1390.75 418.79 L1391.15 417.87 L1391.56 416.96 L1391.98 416.06 L1392.42 415.15 L1392.86 414.26 L1393.31 413.37 L1393.77 412.48 L1394.23 411.59 L1394.70 410.71 L1395.17 409.82 L1395.64 408.94 L1396.12 408.06 L1396.59 407.18 L1397.06 406.30 L1397.54 405.42 L1398.01 404.54 L1398.49 403.66 L1398.97 402.78 L1399.45 401.91 L1399.94 401.03 L1400.43 400.17 L1400.93 399.30 L1401.44 398.44 L1401.96 397.59 L1402.50 396.74 L1403.04 395.90 L1403.61 395.08 L1404.20 394.27 L1404.81 393.48 L1405.44 392.71 L1406.09 391.95 L1406.75 391.20 L1407.43 390.47 L1408.11 389.74 L1408.80 389.01 L1409.48 388.28 L1410.15 387.54 L1410.80 386.78 L1411.44 386.02 L1412.07 385.24 L1412.67 384.44 L1413.24 383.62 L1413.78 382.79 L1414.28 381.93 L1414.75 381.05 L1415.19 380.15 L1415.59 379.24 L1415.97 378.31 L1416.32 377.38 L1416.64 376.43 L1416.94 375.48 L1417.23 374.52 L1417.49 373.56 L1417.75 372.59 L1417.99 371.62 L1418.21 370.65 L1418.43 369.67 L1418.63 368.69 L1418.83 367.71 L1419.02 366.73 L1419.20 365.75 L1419.39 364.77 L1419.57 363.78 L1419.76 362.80 L1419.95 361.82 L1420.14 360.84 L1420.33 359.86 L1420.53 358.88 L1420.74 357.90 L1420.96 356.92 L1421.19 355.95 L1421.43 354.98 L1421.69 354.02 L1421.98 353.06 L1422.28 352.11 L1422.61 351.16 L1422.96 350.23 L1423.34 349.30 L1423.74 348.39 L1424.18 347.50 L1424.65 346.62 L1425.17 345.77 L1425.73 344.96 L1426.35 344.19 L1427.03 343.48 L1427.77 342.84 L1428.58 342.30 L1429.44 341.86 L1430.35 341.52 L1431.30 341.27 L1432.27 341.10 L1433.26 340.97 L1434.25 340.87 L1435.25 340.77 L1436.24 340.67 L1437.24 340.57 L1438.23 340.47 L1439.23 340.38 L1440.22 340.29 L1441.22 340.22 L1442.22 340.14 L1443.20 340.07 L1444.17 340.01 L1445.08 339.95 L1445.87 339.90 L1446.51 339.86" stroke="#c50d2b" stroke-width="3.20" fill="none" stroke-linejoin="round" stroke-linecap="round" />
<path d="M1016.30 649.70 C1017.07 649.53 1018.98 648.37 1020.90 648.70 C1022.82 649.03 1025.50 650.78 1027.80 651.70 C1030.10 652.62 1032.73 652.88 1034.70 654.20 C1036.67 655.52 1038.12 656.23 1039.60 659.60 C1041.08 662.97 1042.45 669.97 1043.60 674.40 C1044.75 678.83 1045.52 683.73 1046.50 686.20 C1047.48 688.67 1048.35 689.85 1049.50 689.20 C1050.65 688.55 1051.75 686.42 1053.40 682.30 C1055.05 678.18 1057.75 669.88 1059.40 664.50 C1061.05 659.12 1062.03 653.53 1063.30 650.00 C1064.57 646.47 1065.75 643.85 1067.00 643.30 C1068.25 642.75 1069.47 644.20 1070.80 646.70 C1072.13 649.20 1073.62 653.87 1075.00 658.30 C1076.38 662.73 1077.72 668.30 1079.10 673.30 C1080.48 678.30 1081.90 683.03 1083.30 688.30 C1084.70 693.57 1086.12 699.63 1087.50 704.90 C1088.88 710.17 1090.22 714.63 1091.60 719.90 C1092.98 725.17 1094.42 731.23 1095.80 736.50 C1097.18 741.77 1098.38 746.78 1099.90 751.50 C1101.42 756.22 1103.23 760.92 1104.90 764.80 C1106.57 768.68 1108.23 771.75 1109.90 774.80 C1111.57 777.85 1113.37 780.47 1114.90 783.10 C1116.43 785.73 1117.43 788.13 1119.10 790.60 C1120.77 793.07 1122.78 795.17 1124.90 797.90 C1127.02 800.63 1129.20 803.82 1131.80 807.00 C1134.40 810.18 1137.63 813.83 1140.50 817.00 C1143.37 820.17 1145.87 823.42 1149.00 826.00 C1152.13 828.58 1155.43 830.23 1159.30 832.50 C1163.17 834.77 1167.90 837.57 1172.20 839.60 C1176.50 841.63 1180.82 843.20 1185.10 844.70 C1189.38 846.20 1193.62 847.47 1197.90 848.60 C1202.18 849.73 1206.50 850.72 1210.80 851.50 C1215.10 852.28 1220.37 852.88 1223.70 853.30 C1227.03 853.72 1228.02 854.15 1230.80 854.00 C1233.58 853.85 1236.22 853.08 1240.40 852.40 C1244.58 851.72 1251.18 850.87 1255.90 849.90 C1260.62 848.93 1264.42 847.90 1268.70 846.60 C1272.98 845.30 1277.30 843.92 1281.60 842.10 C1285.90 840.28 1290.20 838.05 1294.50 835.70 C1298.80 833.35 1304.18 830.03 1307.40 828.00 C1310.62 825.97 1311.67 825.50 1313.80 823.50 C1315.93 821.50 1317.43 819.42 1320.20 816.00 C1322.97 812.58 1327.10 806.92 1330.40 803.00 C1333.70 799.08 1337.22 796.02 1340.00 792.50 C1342.78 788.98 1344.75 785.72 1347.10 781.90 C1349.45 778.08 1351.90 773.72 1354.10 769.60 C1356.30 765.48 1358.53 761.62 1360.30 757.20 C1362.07 752.78 1363.37 747.82 1364.70 743.10 C1366.03 738.38 1367.12 733.92 1368.30 728.90 C1369.48 723.88 1370.63 718.30 1371.80 713.00 C1372.97 707.70 1374.12 702.40 1375.30 697.10 C1376.48 691.80 1377.72 686.50 1378.90 681.20 C1380.08 675.90 1381.23 670.30 1382.40 665.30 C1383.57 660.30 1384.72 655.17 1385.90 651.20 C1387.08 647.23 1388.32 643.70 1389.50 641.50 C1390.68 639.30 1391.53 638.00 1393.00 638.00 C1394.47 638.00 1396.95 639.65 1398.30 641.50 C1399.65 643.35 1399.95 645.40 1401.10 649.10 C1402.25 652.80 1403.82 659.02 1405.20 663.70 C1406.58 668.38 1407.93 674.08 1409.40 677.20 C1410.87 680.32 1412.62 682.40 1414.00 682.40 C1415.38 682.40 1416.38 680.67 1417.70 677.20 C1419.02 673.73 1420.52 666.45 1421.90 661.60 C1423.28 656.75 1424.27 651.73 1426.00 648.10 C1427.73 644.47 1430.22 641.72 1432.30 639.80 C1434.38 637.88 1436.25 637.30 1438.50 636.60 C1440.75 635.90 1444.58 635.77 1445.80 635.60" stroke="#231815" stroke-width="3.20" fill="none" stroke-linejoin="round" stroke-linecap="round" />
<rect x="992.50" y="28.30" width="477.50" height="845.90" fill="none" stroke="#000" stroke-width="1.60"/>
<line x1="992.50" y1="318.30" x2="1470.00" y2="318.30" stroke="#000" stroke-width="1.60" />
<line x1="992.50" y1="603.20" x2="1470.00" y2="603.20" stroke="#000" stroke-width="1.60" />
<line x1="992.40" y1="874.20" x2="992.40" y2="880.40" stroke="#000" stroke-width="1.60" />
<text x="992.40" y="912.00" font-size="25.50" text-anchor="middle" fill="#000" >-3</text>
<line x1="1072.00" y1="874.20" x2="1072.00" y2="880.40" stroke="#000" stroke-width="1.60" />
<text x="1072.00" y="912.00" font-size="25.50" text-anchor="middle" fill="#000" >-2</text>
<line x1="1151.60" y1="874.20" x2="1151.60" y2="880.40" stroke="#000" stroke-width="1.60" />
<text x="1151.60" y="912.00" font-size="25.50" text-anchor="middle" fill="#000" >-1</text>
<line x1="1231.20" y1="874.20" x2="1231.20" y2="880.40" stroke="#000" stroke-width="1.60" />
<text x="1231.20" y="912.00" font-size="25.50" text-anchor="middle" fill="#000" >0</text>
<line x1="1310.80" y1="874.20" x2="1310.80" y2="880.40" stroke="#000" stroke-width="1.60" />
<text x="1310.80" y="912.00" font-size="25.50" text-anchor="middle" fill="#000" >1</text>
<line x1="1390.40" y1="874.20" x2="1390.40" y2="880.40" stroke="#000" stroke-width="1.60" />
<text x="1390.40" y="912.00" font-size="25.50" text-anchor="middle" fill="#000" >2</text>
<line x1="1470.00" y1="874.20" x2="1470.00" y2="880.40" stroke="#000" stroke-width="1.60" />
<text x="1470.00" y="912.00" font-size="25.50" text-anchor="middle" fill="#000" >3</text>
<line x1="1032.20" y1="874.20" x2="1032.20" y2="877.40" stroke="#000" stroke-width="1.60" />
<line x1="1111.80" y1="874.20" x2="1111.80" y2="877.40" stroke="#000" stroke-width="1.60" />
<line x1="1191.40" y1="874.20" x2="1191.40" y2="877.40" stroke="#000" stroke-width="1.60" />
<line x1="1271.00" y1="874.20" x2="1271.00" y2="877.40" stroke="#000" stroke-width="1.60" />
<line x1="1350.60" y1="874.20" x2="1350.60" y2="877.40" stroke="#000" stroke-width="1.60" />
<line x1="1430.20" y1="874.20" x2="1430.20" y2="877.40" stroke="#000" stroke-width="1.60" />
<line x1="986.20" y1="65.30" x2="992.50" y2="65.30" stroke="#000" stroke-width="1.60" />
<text x="976.60" y="76.60" font-size="27.60" text-anchor="end" fill="#000" >4</text>
<line x1="986.20" y1="168.30" x2="992.50" y2="168.30" stroke="#000" stroke-width="1.60" />
<text x="976.60" y="177.80" font-size="27.60" text-anchor="end" fill="#000" >0</text>
<line x1="986.20" y1="271.30" x2="992.50" y2="271.30" stroke="#000" stroke-width="1.60" />
<text x="976.60" y="280.90" font-size="27.60" text-anchor="end" fill="#000" >-4</text>
<line x1="988.40" y1="116.80" x2="992.50" y2="116.80" stroke="#000" stroke-width="1.60" />
<line x1="988.40" y1="219.80" x2="992.50" y2="219.80" stroke="#000" stroke-width="1.60" />
<line x1="986.20" y1="441.30" x2="992.50" y2="441.30" stroke="#000" stroke-width="1.60" />
<text x="976.60" y="451.80" font-size="27.60" text-anchor="end" fill="#000" >3</text>
<line x1="986.20" y1="597.00" x2="992.50" y2="597.00" stroke="#000" stroke-width="1.60" />
<text x="976.60" y="605.70" font-size="27.60" text-anchor="end" fill="#000" >0</text>
<line x1="988.40" y1="519.15" x2="992.50" y2="519.15" stroke="#000" stroke-width="1.60" />
<line x1="988.40" y1="363.45" x2="992.50" y2="363.45" stroke="#000" stroke-width="1.60" />
<line x1="986.20" y1="671.58" x2="992.50" y2="671.58" stroke="#000" stroke-width="1.60" />
<text x="976.60" y="679.40" font-size="27.60" text-anchor="end" fill="#000" >1.2</text>
<line x1="986.20" y1="739.02" x2="992.50" y2="739.02" stroke="#000" stroke-width="1.60" />
<text x="976.60" y="749.90" font-size="27.60" text-anchor="end" fill="#000" >0.8</text>
<line x1="986.20" y1="806.46" x2="992.50" y2="806.46" stroke="#000" stroke-width="1.60" />
<text x="976.60" y="817.50" font-size="27.60" text-anchor="end" fill="#000" >0.4</text>
<line x1="986.20" y1="873.90" x2="992.50" y2="873.90" stroke="#000" stroke-width="1.60" />
<text x="976.60" y="884.00" font-size="27.60" text-anchor="end" fill="#000" >0</text>
<line x1="988.40" y1="840.18" x2="992.50" y2="840.18" stroke="#000" stroke-width="1.60" />
<line x1="988.40" y1="772.74" x2="992.50" y2="772.74" stroke="#000" stroke-width="1.60" />
<line x1="988.40" y1="705.30" x2="992.50" y2="705.30" stroke="#000" stroke-width="1.60" />
<line x1="988.40" y1="637.86" x2="992.50" y2="637.86" stroke="#000" stroke-width="1.60" />
<line x1="988.40" y1="604.14" x2="992.50" y2="604.14" stroke="#000" stroke-width="1.60" />
<text x="1052.18" y="61.20" font-size="25.20" fill="#c50d2b">1.350 eV</text>
<text x="1310.18" y="72.80" font-size="25.70" fill="#c50d2b" font-style="italic">I</text>
<text x="1315.69" y="82.00" font-size="16.40" fill="#c50d2b">light</text>
<text x="1332.18" y="192.80" font-size="25.70" fill="#000" font-style="italic">I</text>
<text x="1336.61" y="201.00" font-size="16.40" fill="#000">dark</text>
<text x="1310.18" y="460.70" font-size="25.70" fill="#c50d2b" font-style="italic">I</text>
<text x="1315.79" y="468.90" font-size="16.40" fill="#c50d2b">light</text>
<text x="1337.18" y="580.00" font-size="25.70" fill="#000" font-style="italic">I</text>
<text x="1342.39" y="589.00" font-size="16.80" fill="#000">dark</text>
<text x="1001.23" y="378.70" font-size="28.20" fill="#000" font-style="italic">H</text>
<text x="1019.37" y="387.80" font-size="15.40" fill="#000">sf</text>
<text x="1073.13" y="378.20" font-size="28.20" fill="#000" font-style="italic">H</text>
<text x="1091.76" y="386.90" font-size="15.60" fill="#000">t</text>
<text x="1185.26" y="669.00" font-size="26.20" fill="#000" font-style="italic">I</text>
<text x="1190.42" y="677.80" font-size="16.00" fill="#000">light</text>
<text x="1225.80" y="669.00" font-size="17.00" fill="#000">–</text>
<text x="1241.16" y="669.00" font-size="26.20" fill="#000" font-style="italic">I</text>
<text x="1246.73" y="677.80" font-size="16.00" fill="#000">dark</text>
<text transform="translate(932.70 203.08) rotate(-90)" font-size="25.80" fill="#000">d</text>
<text transform="translate(932.70 188.73) rotate(-90)" font-size="25.80" fill="#000" font-style="italic">I</text>
<text transform="translate(932.70 181.57) rotate(-90)" font-size="25.80" fill="#000">/</text>
<text transform="translate(932.70 174.40) rotate(-90)" font-size="25.80" fill="#000">d</text>
<text transform="translate(932.70 160.05) rotate(-90)" font-size="25.80" fill="#000" font-style="italic">H</text>
<text transform="translate(932.80 489.62) rotate(-90)" font-size="25.80" fill="#000" font-style="italic">I</text>
<text transform="translate(932.80 478.49) rotate(-90)" font-size="25.80" fill="#000">(nA)</text>
<text transform="translate(906.60 777.42) rotate(-90)" font-size="25.80" fill="#000" font-style="italic">I</text>
<text transform="translate(915.80 771.24) rotate(-90)" font-size="16.20" fill="#000">ph</text>
<text transform="translate(906.60 746.40) rotate(-90)" font-size="25.80" fill="#000">(nA)</text>
<text x="1190.72" y="952.90" font-size="24.80" fill="#000" font-style="italic">μ</text>
<text x="1205.84" y="961.10" font-size="16.80" fill="#000">0</text>
<text x="1216.21" y="952.90" font-size="25.80" fill="#000" font-style="italic">H</text>
<text x="1240.10" y="952.90" font-size="25.80" fill="#000">(T)</text>
</svg>
</body></html>
